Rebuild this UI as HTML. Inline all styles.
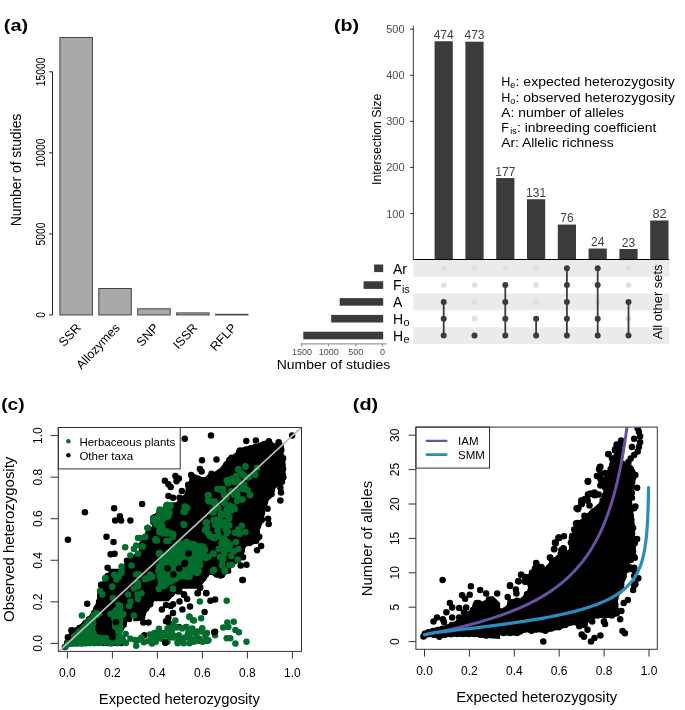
<!DOCTYPE html>
<html><head><meta charset="utf-8"><style>
html,body{margin:0;padding:0;background:#fff;}
svg{display:block;font-family:"Liberation Sans", sans-serif;will-change:transform;}
</style></head><body>
<svg width="685" height="710" viewBox="0 0 685 710">
<rect width="685" height="710" fill="#fff"/>
<text x="3.87" y="31.00" font-size="17" text-anchor="start" fill="#000" font-weight="bold" textLength="24.38" lengthAdjust="spacingAndGlyphs">(a)</text>
<text x="334.00" y="31.00" font-size="17" text-anchor="start" fill="#000" font-weight="bold" textLength="25.10" lengthAdjust="spacingAndGlyphs">(b)</text>
<text x="1.24" y="409.60" font-size="17" text-anchor="start" fill="#000" font-weight="bold" textLength="23.36" lengthAdjust="spacingAndGlyphs">(c)</text>
<text x="352.80" y="409.60" font-size="17" text-anchor="start" fill="#000" font-weight="bold" textLength="25.40" lengthAdjust="spacingAndGlyphs">(d)</text>
<line x1="52.50" y1="71.80" x2="52.50" y2="314.95" stroke="#222" stroke-width="1"/>
<line x1="49.00" y1="314.95" x2="52.50" y2="314.95" stroke="#222" stroke-width="1"/>
<text x="44.80" y="314.95" font-size="12" text-anchor="middle" fill="#000" transform="rotate(-90 44.80 314.95)" textLength="5.75" lengthAdjust="spacingAndGlyphs">0</text>
<line x1="49.00" y1="233.90" x2="52.50" y2="233.90" stroke="#222" stroke-width="1"/>
<text x="44.80" y="233.90" font-size="12" text-anchor="middle" fill="#000" transform="rotate(-90 44.80 233.90)" textLength="23.00" lengthAdjust="spacingAndGlyphs">5000</text>
<line x1="49.00" y1="152.85" x2="52.50" y2="152.85" stroke="#222" stroke-width="1"/>
<text x="44.80" y="152.85" font-size="12" text-anchor="middle" fill="#000" transform="rotate(-90 44.80 152.85)" textLength="28.75" lengthAdjust="spacingAndGlyphs">10000</text>
<line x1="49.00" y1="71.80" x2="52.50" y2="71.80" stroke="#222" stroke-width="1"/>
<text x="44.80" y="71.80" font-size="12" text-anchor="middle" fill="#000" transform="rotate(-90 44.80 71.80)" textLength="28.75" lengthAdjust="spacingAndGlyphs">15000</text>
<text x="20.50" y="170.00" font-size="14" text-anchor="middle" fill="#000" transform="rotate(-90 20.50 170.00)" textLength="112.60" lengthAdjust="spacingAndGlyphs">Number of studies</text>
<rect x="59.90" y="37.55" width="32.50" height="277.40" fill="#a9a9a9" stroke="#444" stroke-width="1"/>
<rect x="98.80" y="288.50" width="32.50" height="26.45" fill="#a9a9a9" stroke="#444" stroke-width="1"/>
<rect x="137.70" y="308.80" width="32.50" height="6.15" fill="#a9a9a9" stroke="#444" stroke-width="1"/>
<rect x="176.60" y="312.90" width="32.50" height="2.05" fill="#a9a9a9" stroke="#444" stroke-width="1"/>
<rect x="215.50" y="314.30" width="32.50" height="0.65" fill="#a9a9a9" stroke="#444" stroke-width="1"/>
<text x="78.65" y="325.60" font-size="12.5" text-anchor="end" fill="#000" transform="rotate(-47 78.65 325.60)" dominant-baseline="central">SSR</text>
<text x="117.55" y="325.60" font-size="12.5" text-anchor="end" fill="#000" transform="rotate(-47 117.55 325.60)" dominant-baseline="central">Allozymes</text>
<text x="156.45" y="325.60" font-size="12.5" text-anchor="end" fill="#000" transform="rotate(-47 156.45 325.60)" dominant-baseline="central">SNP</text>
<text x="195.35" y="325.60" font-size="12.5" text-anchor="end" fill="#000" transform="rotate(-47 195.35 325.60)" dominant-baseline="central">ISSR</text>
<text x="234.25" y="325.60" font-size="12.5" text-anchor="end" fill="#000" transform="rotate(-47 234.25 325.60)" dominant-baseline="central">RFLP</text>
<line x1="413.30" y1="25.80" x2="413.30" y2="259.60" stroke="#333" stroke-width="1"/>
<line x1="410.10" y1="213.53" x2="413.30" y2="213.53" stroke="#333" stroke-width="1"/>
<text x="404.60" y="217.53" font-size="11" text-anchor="end" fill="#4d4d4d">100</text>
<line x1="410.10" y1="167.46" x2="413.30" y2="167.46" stroke="#333" stroke-width="1"/>
<text x="404.60" y="171.46" font-size="11" text-anchor="end" fill="#4d4d4d">200</text>
<line x1="410.10" y1="121.39" x2="413.30" y2="121.39" stroke="#333" stroke-width="1"/>
<text x="404.60" y="125.39" font-size="11" text-anchor="end" fill="#4d4d4d">300</text>
<line x1="410.10" y1="75.32" x2="413.30" y2="75.32" stroke="#333" stroke-width="1"/>
<text x="404.60" y="79.32" font-size="11" text-anchor="end" fill="#4d4d4d">400</text>
<line x1="410.10" y1="29.25" x2="413.30" y2="29.25" stroke="#333" stroke-width="1"/>
<text x="404.60" y="33.25" font-size="11" text-anchor="end" fill="#4d4d4d">500</text>
<text x="380.70" y="139.30" font-size="13" text-anchor="middle" fill="#000" transform="rotate(-90 380.70 139.30)" textLength="91.50" lengthAdjust="spacingAndGlyphs">Intersection Size</text>
<rect x="413.30" y="259.90" width="255.90" height="16.80" fill="#ebebeb"/>
<rect x="413.30" y="293.50" width="255.90" height="16.80" fill="#ebebeb"/>
<rect x="413.30" y="327.10" width="255.90" height="16.80" fill="#ebebeb"/>
<rect x="434.60" y="41.23" width="18.20" height="218.37" fill="#3b3b3b"/>
<text x="443.70" y="38.93" font-size="12" text-anchor="middle" fill="#404040">474</text>
<rect x="465.40" y="41.69" width="18.20" height="217.91" fill="#3b3b3b"/>
<text x="474.50" y="39.39" font-size="12" text-anchor="middle" fill="#404040">473</text>
<rect x="496.20" y="178.06" width="18.20" height="81.54" fill="#3b3b3b"/>
<text x="505.30" y="175.76" font-size="12" text-anchor="middle" fill="#404040">177</text>
<rect x="527.00" y="199.25" width="18.20" height="60.35" fill="#3b3b3b"/>
<text x="536.10" y="196.95" font-size="12" text-anchor="middle" fill="#404040">131</text>
<rect x="557.80" y="224.59" width="18.20" height="35.01" fill="#3b3b3b"/>
<text x="566.90" y="222.29" font-size="12" text-anchor="middle" fill="#404040">76</text>
<rect x="588.60" y="248.54" width="18.20" height="11.06" fill="#3b3b3b"/>
<text x="597.70" y="246.24" font-size="12" text-anchor="middle" fill="#404040">24</text>
<rect x="619.40" y="249.00" width="18.20" height="10.60" fill="#3b3b3b"/>
<text x="628.50" y="246.70" font-size="12" text-anchor="middle" fill="#404040">23</text>
<rect x="650.20" y="220.50" width="18.30" height="39.10" fill="#3b3b3b"/>
<text x="659.60" y="217.60" font-size="12.8" text-anchor="middle" fill="#404040">82</text>
<line x1="413.30" y1="259.50" x2="669.20" y2="259.50" stroke="#000" stroke-width="1"/>
<circle cx="443.70" cy="268.30" r="2.9" fill="#e0e0e0"/>
<circle cx="443.70" cy="285.10" r="2.9" fill="#e0e0e0"/>
<line x1="443.70" y1="301.90" x2="443.70" y2="335.50" stroke="#3b3b3b" stroke-width="1.8"/>
<circle cx="443.70" cy="301.90" r="3.0" fill="#3b3b3b"/>
<circle cx="443.70" cy="318.70" r="3.0" fill="#3b3b3b"/>
<circle cx="443.70" cy="335.50" r="3.0" fill="#3b3b3b"/>
<circle cx="474.50" cy="268.30" r="2.9" fill="#e0e0e0"/>
<circle cx="474.50" cy="285.10" r="2.9" fill="#e0e0e0"/>
<circle cx="474.50" cy="301.90" r="2.9" fill="#e0e0e0"/>
<circle cx="474.50" cy="318.70" r="2.9" fill="#e0e0e0"/>
<circle cx="474.50" cy="335.50" r="3.0" fill="#3b3b3b"/>
<circle cx="505.30" cy="268.30" r="2.9" fill="#e0e0e0"/>
<line x1="505.30" y1="285.10" x2="505.30" y2="335.50" stroke="#3b3b3b" stroke-width="1.8"/>
<circle cx="505.30" cy="285.10" r="3.0" fill="#3b3b3b"/>
<circle cx="505.30" cy="301.90" r="3.0" fill="#3b3b3b"/>
<circle cx="505.30" cy="318.70" r="3.0" fill="#3b3b3b"/>
<circle cx="505.30" cy="335.50" r="3.0" fill="#3b3b3b"/>
<circle cx="536.10" cy="268.30" r="2.9" fill="#e0e0e0"/>
<circle cx="536.10" cy="285.10" r="2.9" fill="#e0e0e0"/>
<circle cx="536.10" cy="301.90" r="2.9" fill="#e0e0e0"/>
<line x1="536.10" y1="318.70" x2="536.10" y2="335.50" stroke="#3b3b3b" stroke-width="1.8"/>
<circle cx="536.10" cy="318.70" r="3.0" fill="#3b3b3b"/>
<circle cx="536.10" cy="335.50" r="3.0" fill="#3b3b3b"/>
<line x1="566.90" y1="268.30" x2="566.90" y2="335.50" stroke="#3b3b3b" stroke-width="1.8"/>
<circle cx="566.90" cy="268.30" r="3.0" fill="#3b3b3b"/>
<circle cx="566.90" cy="285.10" r="3.0" fill="#3b3b3b"/>
<circle cx="566.90" cy="301.90" r="3.0" fill="#3b3b3b"/>
<circle cx="566.90" cy="318.70" r="3.0" fill="#3b3b3b"/>
<circle cx="566.90" cy="335.50" r="3.0" fill="#3b3b3b"/>
<circle cx="597.70" cy="301.90" r="2.9" fill="#e0e0e0"/>
<line x1="597.70" y1="268.30" x2="597.70" y2="335.50" stroke="#3b3b3b" stroke-width="1.8"/>
<circle cx="597.70" cy="268.30" r="3.0" fill="#3b3b3b"/>
<circle cx="597.70" cy="285.10" r="3.0" fill="#3b3b3b"/>
<circle cx="597.70" cy="318.70" r="3.0" fill="#3b3b3b"/>
<circle cx="597.70" cy="335.50" r="3.0" fill="#3b3b3b"/>
<circle cx="628.50" cy="268.30" r="2.9" fill="#e0e0e0"/>
<circle cx="628.50" cy="285.10" r="2.9" fill="#e0e0e0"/>
<circle cx="628.50" cy="318.70" r="2.9" fill="#e0e0e0"/>
<line x1="628.50" y1="301.90" x2="628.50" y2="335.50" stroke="#3b3b3b" stroke-width="1.8"/>
<circle cx="628.50" cy="301.90" r="3.0" fill="#3b3b3b"/>
<circle cx="628.50" cy="335.50" r="3.0" fill="#3b3b3b"/>
<text x="662.10" y="301.85" font-size="12" text-anchor="middle" fill="#000" transform="rotate(-90 662.10 301.85)" textLength="74.70" lengthAdjust="spacingAndGlyphs">All other sets</text>
<rect x="374.10" y="264.50" width="9.10" height="7.60" fill="#3b3b3b"/>
<rect x="363.60" y="281.30" width="19.60" height="7.60" fill="#3b3b3b"/>
<rect x="339.70" y="298.10" width="43.50" height="7.60" fill="#3b3b3b"/>
<rect x="331.20" y="314.90" width="52.00" height="7.60" fill="#3b3b3b"/>
<rect x="303.30" y="331.70" width="79.90" height="7.60" fill="#3b3b3b"/>
<line x1="300.30" y1="343.90" x2="386.50" y2="343.90" stroke="#999" stroke-width="1.2"/>
<line x1="301.90" y1="343.90" x2="301.90" y2="346.60" stroke="#999" stroke-width="1.2"/>
<text x="301.90" y="355.30" font-size="9" text-anchor="middle" fill="#4d4d4d">1500</text>
<line x1="328.70" y1="343.90" x2="328.70" y2="346.60" stroke="#999" stroke-width="1.2"/>
<text x="328.70" y="355.30" font-size="9" text-anchor="middle" fill="#4d4d4d">1000</text>
<line x1="355.70" y1="343.90" x2="355.70" y2="346.60" stroke="#999" stroke-width="1.2"/>
<text x="355.70" y="355.30" font-size="9" text-anchor="middle" fill="#4d4d4d">500</text>
<line x1="382.50" y1="343.90" x2="382.50" y2="346.60" stroke="#999" stroke-width="1.2"/>
<text x="382.50" y="355.30" font-size="9" text-anchor="middle" fill="#4d4d4d">0</text>
<text x="276.70" y="369.20" font-size="12.4" text-anchor="start" fill="#000" textLength="113.60" lengthAdjust="spacingAndGlyphs">Number of studies</text>
<text x="393" y="273.50" font-size="14">Ar</text>
<text x="393" y="290.30" font-size="14">F<tspan font-size="10.8" dx="0.4" dy="2.4">is</tspan></text>
<text x="393" y="307.10" font-size="14">A</text>
<text x="393" y="323.90" font-size="14">H<tspan font-size="10.8" dx="0.4" dy="2.4">o</tspan></text>
<text x="393" y="340.70" font-size="14">H<tspan font-size="10.8" dx="0.4" dy="2.4">e</tspan></text>
<text x="501.20" y="86.40" font-size="12.5" text-anchor="start" fill="#000">H</text>
<text x="510.20" y="88.40" font-size="9" text-anchor="start" fill="#000">e</text>
<text x="515.50" y="86.40" font-size="12.5" text-anchor="start" fill="#000" textLength="159.40" lengthAdjust="spacingAndGlyphs">: expected heterozygosity</text>
<text x="501.20" y="101.65" font-size="12.5" text-anchor="start" fill="#000">H</text>
<text x="510.20" y="103.65" font-size="9" text-anchor="start" fill="#000">o</text>
<text x="515.50" y="101.65" font-size="12.5" text-anchor="start" fill="#000" textLength="159.40" lengthAdjust="spacingAndGlyphs">: observed heterozygosity</text>
<text x="501.20" y="116.90" font-size="12.5" text-anchor="start" fill="#000" textLength="122.80" lengthAdjust="spacingAndGlyphs">A: number of alleles</text>
<text x="501.20" y="132.15" font-size="12.5" text-anchor="start" fill="#000">F</text>
<text x="510.20" y="134.15" font-size="9" text-anchor="start" fill="#000">is</text>
<text x="517.00" y="132.15" font-size="12.5" text-anchor="start" fill="#000" textLength="139.30" lengthAdjust="spacingAndGlyphs">: inbreeding coefficient</text>
<text x="501.20" y="147.40" font-size="12.5" text-anchor="start" fill="#000" textLength="112.40" lengthAdjust="spacingAndGlyphs">Ar: Allelic richness</text>
<clipPath id="clipc2"><rect x="58.8" y="428" width="242.2" height="222.9"/></clipPath><g clip-path="url(#clipc2)"><polygon fill="#000" points="178.9,508.8 177.7,501.7 182.4,497.1 185.9,492.4 186.5,486.6 189.4,481.9 191.7,477.2 196.4,476.1 201.1,477.2 205.7,478.4 209.2,476.1 210.4,473.7 215.1,472.5 222.1,471.4 222.1,508.8"/>
<polygon fill="#000" points="217.3,470.9 224.3,462.9 227.8,458.1 231.3,455.3 233.7,455.0 237.2,450.4 239.5,448.0 245.4,446.9 250.0,445.7 254.7,444.5 259.4,443.4 262.3,442.2 264.0,441.6 267.5,440.4 271.1,439.8 273.4,443.4 275.7,444.5 278.1,441.6 281.0,441.0 283.3,445.7 283.9,450.4 283.3,455.0 285.6,458.5 285.1,464.4 285.6,469.0 285.1,473.7 285.6,478.4 282.7,484.2 276.9,486.0 274.6,490.1 273.4,495.9 268.7,500.6 266.4,508.8 217.3,508.8"/>
<polygon fill="#000" points="107.1,588.8 110.6,582.9 116.4,579.4 121.1,572.4 123.4,565.4 126.9,559.6 131.6,556.1 138.0,551.4 142.1,551.4 142.1,588.8"/>
<polygon fill="#000" points="133.3,559.6 138.0,553.7 145.0,542.0 147.3,538.5 152.0,532.7 153.2,528.0 150.8,521.0 153.2,515.2 159.0,510.5 166.0,508.2 173.0,502.3 222.1,502.3 222.1,557.2 218.0,557.2 215.1,560.7 212.7,565.4 210.4,572.4 208.1,575.9 205.7,579.4 203.4,582.9 198.7,588.8 133.3,588.8"/>
<polygon fill="#000" points="217.3,502.3 265.2,502.3 264.6,512.8 264.0,521.0 260.5,526.9 259.4,531.5 261.1,538.5 257.0,543.2 250.0,545.5 245.4,546.7 244.2,551.4 243.0,556.1 239.5,561.9 233.7,565.4 229.0,570.1 224.3,574.7 222.0,575.9 217.3,575.9"/>
<polygon fill="#000" points="62.7,645.7 67.3,637.6 72.0,629.4 77.9,625.9 83.7,621.2 87.2,617.7 91.9,611.9 94.2,607.2 96.5,601.4 97.7,594.4 100.0,586.2 102.4,582.7 107.1,575.7 109.4,568.7 142.1,568.7 142.1,615.4 133.9,616.5 128.1,620.1 125.7,625.9 123.4,629.4 121.1,634.1 121.1,645.7"/>
<polygon fill="#000" points="133.3,568.7 208.1,568.7 206.9,576.8 203.4,581.5 196.4,585.0 187.1,586.2 178.9,588.5 173.0,592.0 167.2,594.4 161.4,596.7 156.7,597.9 153.2,601.4 152.0,606.0 148.5,609.5 145.0,615.4 142.7,620.1 138.0,621.2 133.3,621.2"/>
<polygon fill="#000" points="138.7,543.6 146.6,531.8 151.8,527.8 153.1,522.6 151.8,516.0 157.1,512.0 161.0,508.1 166.3,505.5 174.2,506.8 179.4,501.5 183.4,496.3 186.0,491.0 188.6,484.5 192.6,481.8 197.8,479.2 203.1,477.9 208.3,475.3 213.6,472.6 218.8,468.7 234.6,468.7 234.6,564.6 138.7,564.6"/>
<polygon fill="#000" points="196.7,528.8 231.2,528.8 231.2,573.2 224.7,574.4 220.1,577.9 215.4,576.7 210.7,574.4 207.2,574.4 204.9,576.7 201.4,581.4 196.7,582.6 194.4,565.0"/>
<polygon fill="#000" points="148.8,579.1 179.2,582.6 185.0,584.9 179.2,590.7 173.4,595.4 168.7,601.2 148.8,601.2"/>
<g fill="#000"><circle cx="179.5" cy="503.6" r="3.25"/><circle cx="184.5" cy="498.6" r="3.25"/><circle cx="188.5" cy="492.7" r="3.25"/><circle cx="188.7" cy="487.9" r="3.25"/><circle cx="191.7" cy="483.1" r="3.25"/><circle cx="192.4" cy="479.7" r="3.25"/><circle cx="195.8" cy="478.6" r="3.25"/><circle cx="200.4" cy="479.7" r="3.25"/><circle cx="207.2" cy="480.6" r="3.25"/><circle cx="211.6" cy="477.2" r="3.25"/><circle cx="211.0" cy="476.2" r="3.25"/><circle cx="184.7" cy="438.7" r="3.25"/><circle cx="211.0" cy="435.4" r="3.25"/><circle cx="202.0" cy="460.3" r="3.25"/><circle cx="216.5" cy="459.5" r="3.25"/><circle cx="199.9" cy="469.0" r="3.25"/><circle cx="201.6" cy="471.4" r="3.25"/><circle cx="175.4" cy="476.1" r="3.25"/><circle cx="178.9" cy="478.4" r="3.25"/><circle cx="176.5" cy="481.3" r="3.25"/><circle cx="164.9" cy="480.7" r="3.25"/><circle cx="168.4" cy="484.2" r="3.25"/><circle cx="170.7" cy="487.1" r="3.25"/><circle cx="191.1" cy="474.9" r="3.25"/><circle cx="194.1" cy="477.2" r="3.25"/><circle cx="197.6" cy="478.4" r="3.25"/><circle cx="211.6" cy="473.7" r="3.25"/><circle cx="212.7" cy="477.2" r="3.25"/><circle cx="181.8" cy="491.0" r="3.25"/><circle cx="168.4" cy="495.9" r="3.25"/><circle cx="173.0" cy="497.7" r="3.25"/><circle cx="179.5" cy="497.7" r="3.25"/><circle cx="142.1" cy="504.1" r="3.25"/><circle cx="188.2" cy="484.8" r="3.25"/><circle cx="226.4" cy="464.4" r="3.25"/><circle cx="229.5" cy="460.1" r="3.25"/><circle cx="231.6" cy="457.8" r="3.25"/><circle cx="235.8" cy="456.6" r="3.25"/><circle cx="239.0" cy="452.2" r="3.25"/><circle cx="240.0" cy="450.6" r="3.25"/><circle cx="246.0" cy="449.4" r="3.25"/><circle cx="250.7" cy="448.2" r="3.25"/><circle cx="255.3" cy="447.0" r="3.25"/><circle cx="260.3" cy="445.8" r="3.25"/><circle cx="263.1" cy="444.6" r="3.25"/><circle cx="264.9" cy="444.1" r="3.25"/><circle cx="268.0" cy="443.0" r="3.25"/><circle cx="268.9" cy="441.3" r="3.25"/><circle cx="272.2" cy="445.7" r="3.25"/><circle cx="277.8" cy="446.1" r="3.25"/><circle cx="278.6" cy="444.1" r="3.25"/><circle cx="278.7" cy="442.2" r="3.25"/><circle cx="280.7" cy="446.0" r="3.25"/><circle cx="281.3" cy="450.0" r="3.25"/><circle cx="281.2" cy="456.5" r="3.25"/><circle cx="283.1" cy="458.3" r="3.25"/><circle cx="282.5" cy="464.7" r="3.25"/><circle cx="283.1" cy="468.7" r="3.25"/><circle cx="282.5" cy="474.0" r="3.25"/><circle cx="283.3" cy="477.2" r="3.25"/><circle cx="282.0" cy="481.7" r="3.25"/><circle cx="274.6" cy="484.7" r="3.25"/><circle cx="272.0" cy="489.6" r="3.25"/><circle cx="271.5" cy="494.1" r="3.25"/><circle cx="246.3" cy="441.0" r="3.25"/><circle cx="255.9" cy="440.4" r="3.25"/><circle cx="292.1" cy="435.4" r="3.25"/><circle cx="280.4" cy="487.7" r="3.25"/><circle cx="281.0" cy="492.4" r="3.25"/><circle cx="280.4" cy="500.6" r="3.25"/><circle cx="111.9" cy="585.1" r="3.25"/><circle cx="118.6" cy="580.9" r="3.25"/><circle cx="120.9" cy="577.3" r="3.25"/><circle cx="123.5" cy="573.2" r="3.25"/><circle cx="125.6" cy="566.7" r="3.25"/><circle cx="128.5" cy="561.6" r="3.25"/><circle cx="133.1" cy="558.2" r="3.25"/><circle cx="84.9" cy="512.3" r="3.25"/><circle cx="114.1" cy="508.2" r="3.25"/><circle cx="119.9" cy="516.3" r="3.25"/><circle cx="115.2" cy="520.4" r="3.25"/><circle cx="121.1" cy="520.4" r="3.25"/><circle cx="130.4" cy="520.4" r="3.25"/><circle cx="67.9" cy="539.7" r="3.25"/><circle cx="106.5" cy="536.8" r="3.25"/><circle cx="113.5" cy="542.0" r="3.25"/><circle cx="110.6" cy="554.3" r="3.25"/><circle cx="114.6" cy="553.7" r="3.25"/><circle cx="107.6" cy="567.7" r="3.25"/><circle cx="107.6" cy="575.9" r="3.25"/><circle cx="101.2" cy="584.7" r="3.25"/><circle cx="126.9" cy="560.7" r="3.25"/><circle cx="140.2" cy="555.1" r="3.25"/><circle cx="142.6" cy="551.2" r="3.25"/><circle cx="144.9" cy="547.3" r="3.25"/><circle cx="147.2" cy="543.5" r="3.25"/><circle cx="149.4" cy="540.2" r="3.25"/><circle cx="154.5" cy="533.3" r="3.25"/><circle cx="155.6" cy="527.2" r="3.25"/><circle cx="153.3" cy="522.0" r="3.25"/><circle cx="154.8" cy="517.2" r="3.25"/><circle cx="159.8" cy="513.0" r="3.25"/><circle cx="216.0" cy="555.6" r="3.25"/><circle cx="212.8" cy="559.6" r="3.25"/><circle cx="210.3" cy="564.6" r="3.25"/><circle cx="208.2" cy="571.0" r="3.25"/><circle cx="205.9" cy="574.5" r="3.25"/><circle cx="203.6" cy="578.0" r="3.25"/><circle cx="262.0" cy="512.7" r="3.25"/><circle cx="261.8" cy="519.7" r="3.25"/><circle cx="258.0" cy="526.2" r="3.25"/><circle cx="256.8" cy="532.2" r="3.25"/><circle cx="259.2" cy="536.8" r="3.25"/><circle cx="256.2" cy="540.7" r="3.25"/><circle cx="249.4" cy="543.0" r="3.25"/><circle cx="242.8" cy="546.1" r="3.25"/><circle cx="241.7" cy="550.7" r="3.25"/><circle cx="240.8" cy="554.7" r="3.25"/><circle cx="238.2" cy="559.7" r="3.25"/><circle cx="231.8" cy="563.6" r="3.25"/><circle cx="227.2" cy="568.2" r="3.25"/><circle cx="223.2" cy="572.4" r="3.25"/><circle cx="267.5" cy="508.8" r="3.25"/><circle cx="268.1" cy="518.7" r="3.25"/><circle cx="268.7" cy="523.9" r="3.25"/><circle cx="261.1" cy="546.1" r="3.25"/><circle cx="257.0" cy="550.2" r="3.25"/><circle cx="243.0" cy="557.2" r="3.25"/><circle cx="240.7" cy="565.4" r="3.25"/><circle cx="246.5" cy="564.8" r="3.25"/><circle cx="242.4" cy="580.0" r="3.25"/><circle cx="222.0" cy="574.7" r="3.25"/><circle cx="64.9" cy="647.0" r="3.25"/><circle cx="67.3" cy="642.9" r="3.25"/><circle cx="69.6" cy="638.9" r="3.25"/><circle cx="71.9" cy="634.8" r="3.25"/><circle cx="73.4" cy="631.6" r="3.25"/><circle cx="79.5" cy="627.9" r="3.25"/><circle cx="85.5" cy="623.1" r="3.25"/><circle cx="89.2" cy="619.3" r="3.25"/><circle cx="94.2" cy="613.0" r="3.25"/><circle cx="96.6" cy="608.2" r="3.25"/><circle cx="99.1" cy="601.8" r="3.25"/><circle cx="100.2" cy="595.1" r="3.25"/><circle cx="101.4" cy="591.0" r="3.25"/><circle cx="102.2" cy="587.6" r="3.25"/><circle cx="104.5" cy="584.1" r="3.25"/><circle cx="106.9" cy="580.6" r="3.25"/><circle cx="132.6" cy="614.3" r="3.25"/><circle cx="125.7" cy="619.1" r="3.25"/><circle cx="123.6" cy="624.4" r="3.25"/><circle cx="121.1" cy="628.2" r="3.25"/><circle cx="118.5" cy="634.1" r="3.25"/><circle cx="118.5" cy="639.9" r="3.25"/><circle cx="121.1" cy="643.1" r="3.25"/><circle cx="116.6" cy="643.1" r="3.25"/><circle cx="112.1" cy="643.1" r="3.25"/><circle cx="107.6" cy="643.1" r="3.25"/><circle cx="103.1" cy="643.1" r="3.25"/><circle cx="98.6" cy="643.1" r="3.25"/><circle cx="94.1" cy="643.1" r="3.25"/><circle cx="89.6" cy="643.1" r="3.25"/><circle cx="85.1" cy="643.1" r="3.25"/><circle cx="80.6" cy="643.1" r="3.25"/><circle cx="76.1" cy="643.1" r="3.25"/><circle cx="71.7" cy="643.1" r="3.25"/><circle cx="67.2" cy="643.1" r="3.25"/><circle cx="87.2" cy="603.7" r="3.25"/><circle cx="101.2" cy="585.0" r="3.25"/><circle cx="72.6" cy="630.6" r="3.25"/><circle cx="129.2" cy="618.9" r="3.25"/><circle cx="123.4" cy="624.7" r="3.25"/><circle cx="122.2" cy="639.3" r="3.25"/><circle cx="204.8" cy="575.3" r="3.25"/><circle cx="202.2" cy="579.2" r="3.25"/><circle cx="196.1" cy="582.4" r="3.25"/><circle cx="191.4" cy="583.0" r="3.25"/><circle cx="186.3" cy="583.7" r="3.25"/><circle cx="182.2" cy="584.9" r="3.25"/><circle cx="177.5" cy="586.3" r="3.25"/><circle cx="172.1" cy="589.6" r="3.25"/><circle cx="166.2" cy="591.9" r="3.25"/><circle cx="160.7" cy="594.2" r="3.25"/><circle cx="154.8" cy="596.0" r="3.25"/><circle cx="150.7" cy="600.7" r="3.25"/><circle cx="150.2" cy="604.2" r="3.25"/><circle cx="146.3" cy="608.2" r="3.25"/><circle cx="142.7" cy="614.2" r="3.25"/><circle cx="142.0" cy="617.5" r="3.25"/><circle cx="178.3" cy="591.4" r="3.25"/><circle cx="184.1" cy="594.9" r="3.25"/><circle cx="187.1" cy="599.0" r="3.25"/><circle cx="179.5" cy="601.4" r="3.25"/><circle cx="173.0" cy="604.3" r="3.25"/><circle cx="166.0" cy="604.9" r="3.25"/><circle cx="161.9" cy="609.5" r="3.25"/><circle cx="170.7" cy="606.0" r="3.25"/><circle cx="182.4" cy="609.5" r="3.25"/><circle cx="190.0" cy="606.6" r="3.25"/><circle cx="173.0" cy="613.0" r="3.25"/><circle cx="168.4" cy="617.7" r="3.25"/><circle cx="166.0" cy="621.2" r="3.25"/><circle cx="169.5" cy="623.6" r="3.25"/><circle cx="178.9" cy="627.1" r="3.25"/><circle cx="199.9" cy="587.9" r="3.25"/><circle cx="197.6" cy="593.2" r="3.25"/><circle cx="206.3" cy="593.2" r="3.25"/><circle cx="210.4" cy="600.8" r="3.25"/><circle cx="215.1" cy="599.6" r="3.25"/><circle cx="204.6" cy="611.9" r="3.25"/><circle cx="215.1" cy="631.7" r="3.25"/><circle cx="143.3" cy="622.4" r="3.25"/><circle cx="148.5" cy="622.4" r="3.25"/><circle cx="144.4" cy="635.2" r="3.25"/><circle cx="165.4" cy="642.8" r="3.25"/><circle cx="162.5" cy="595.5" r="3.25"/><circle cx="168.4" cy="595.5" r="3.25"/><circle cx="242.8" cy="580.1" r="3.25"/><circle cx="222.0" cy="574.5" r="3.25"/><circle cx="148.1" cy="533.8" r="3.25"/><circle cx="154.3" cy="528.4" r="3.25"/><circle cx="155.7" cy="522.0" r="3.25"/><circle cx="153.4" cy="518.1" r="3.25"/><circle cx="158.9" cy="513.9" r="3.25"/><circle cx="162.2" cy="510.4" r="3.25"/><circle cx="165.9" cy="508.0" r="3.25"/><circle cx="176.0" cy="508.6" r="3.25"/><circle cx="181.5" cy="503.1" r="3.25"/><circle cx="185.7" cy="497.4" r="3.25"/><circle cx="188.4" cy="492.0" r="3.25"/><circle cx="190.1" cy="486.6" r="3.25"/><circle cx="193.7" cy="484.2" r="3.25"/><circle cx="198.4" cy="481.7" r="3.25"/><circle cx="204.2" cy="480.2" r="3.25"/><circle cx="209.5" cy="477.6" r="3.25"/><circle cx="223.2" cy="572.3" r="3.25"/><circle cx="220.7" cy="575.4" r="3.25"/><circle cx="216.6" cy="574.4" r="3.25"/><circle cx="210.7" cy="571.8" r="3.25"/><circle cx="205.4" cy="572.5" r="3.25"/><circle cx="202.8" cy="575.2" r="3.25"/><circle cx="200.8" cy="578.9" r="3.25"/><circle cx="199.3" cy="582.2" r="3.25"/><circle cx="198.7" cy="577.8" r="3.25"/><circle cx="198.1" cy="573.5" r="3.25"/><circle cx="197.5" cy="569.1" r="3.25"/><circle cx="178.2" cy="585.0" r="3.25"/><circle cx="183.2" cy="583.1" r="3.25"/><circle cx="177.6" cy="588.7" r="3.25"/><circle cx="171.3" cy="593.8" r="3.25"/></g>
<polygon fill="#006d2c" points="151.4,518.7 156.7,514.0 159.0,509.3 166.0,508.2 171.9,514.0 169.5,518.7 163.7,522.2 164.9,526.9 167.2,533.9 161.4,535.0 157.9,530.4 153.2,524.5"/>
<polygon fill="#006d2c" points="63.5,645.0 68.8,637.2 77.5,629.3 82.8,624.9 88.0,617.9 93.3,612.6 98.5,611.8 101.2,616.1 97.7,620.5 95.9,624.9 95.0,631.0 98.5,634.5 105.5,635.4 112.5,636.3 117.8,639.8 116.0,644.2 109.0,645.0 86.3,645.9 68.8,646.4"/>
<polygon fill="#006d2c" points="109.0,611.8 114.3,608.3 120.0,603.0 123.0,603.0 123.0,632.8 116.0,632.8 112.5,626.6 111.7,618.8"/>
<polygon fill="#006d2c" points="157.0,565.0 161.7,558.0 167.5,551.0 173.4,546.4 180.4,541.7 187.4,539.3 194.4,541.7 201.4,544.0 206.1,546.4 207.2,551.0 203.7,555.7 199.1,556.9 201.4,562.7 201.4,566.2 197.9,569.7 200.2,573.2 196.7,575.5 192.0,574.4 189.7,579.1 185.0,579.1 180.4,579.1 176.9,581.4 172.2,583.7 167.5,586.1 162.8,588.4 158.2,584.9 157.0,576.7 155.8,569.7"/>
<g fill="#006d2c"><circle cx="208.7" cy="495.3" r="3.25"/><circle cx="208.1" cy="500.6" r="3.25"/><circle cx="213.9" cy="501.7" r="3.25"/><circle cx="217.4" cy="488.9" r="3.25"/><circle cx="167.2" cy="504.7" r="3.25"/><circle cx="170.7" cy="505.2" r="3.25"/><circle cx="184.7" cy="506.4" r="3.25"/><circle cx="245.4" cy="466.7" r="3.25"/><circle cx="238.4" cy="469.0" r="3.25"/><circle cx="240.7" cy="472.5" r="3.25"/><circle cx="257.0" cy="467.9" r="3.25"/><circle cx="255.3" cy="474.9" r="3.25"/><circle cx="248.9" cy="477.2" r="3.25"/><circle cx="244.2" cy="476.1" r="3.25"/><circle cx="236.0" cy="476.1" r="3.25"/><circle cx="231.3" cy="479.6" r="3.25"/><circle cx="227.8" cy="481.9" r="3.25"/><circle cx="234.8" cy="481.9" r="3.25"/><circle cx="243.0" cy="484.2" r="3.25"/><circle cx="245.4" cy="488.9" r="3.25"/><circle cx="250.0" cy="495.3" r="3.25"/><circle cx="237.2" cy="490.1" r="3.25"/><circle cx="231.3" cy="491.2" r="3.25"/><circle cx="233.7" cy="494.7" r="3.25"/><circle cx="224.3" cy="494.7" r="3.25"/><circle cx="223.2" cy="488.9" r="3.25"/><circle cx="237.2" cy="500.6" r="3.25"/><circle cx="242.4" cy="499.4" r="3.25"/><circle cx="224.3" cy="502.9" r="3.25"/><circle cx="233.7" cy="507.0" r="3.25"/><circle cx="125.2" cy="547.3" r="3.25"/><circle cx="138.0" cy="537.9" r="3.25"/><circle cx="136.2" cy="545.5" r="3.25"/><circle cx="133.9" cy="549.0" r="3.25"/><circle cx="130.4" cy="555.5" r="3.25"/><circle cx="131.6" cy="565.4" r="3.25"/><circle cx="121.6" cy="566.6" r="3.25"/><circle cx="121.6" cy="571.2" r="3.25"/><circle cx="114.1" cy="574.7" r="3.25"/><circle cx="118.7" cy="577.1" r="3.25"/><circle cx="116.4" cy="579.4" r="3.25"/><circle cx="105.3" cy="578.5" r="3.25"/><circle cx="138.0" cy="574.2" r="3.25"/><circle cx="112.3" cy="586.4" r="3.25"/><circle cx="137.4" cy="584.7" r="3.25"/><circle cx="183.5" cy="511.7" r="3.25"/><circle cx="187.1" cy="508.2" r="3.25"/><circle cx="184.1" cy="525.1" r="3.25"/><circle cx="206.9" cy="522.2" r="3.25"/><circle cx="205.7" cy="529.2" r="3.25"/><circle cx="209.2" cy="533.9" r="3.25"/><circle cx="212.7" cy="537.4" r="3.25"/><circle cx="215.1" cy="524.5" r="3.25"/><circle cx="216.2" cy="519.8" r="3.25"/><circle cx="212.7" cy="510.5" r="3.25"/><circle cx="215.1" cy="507.0" r="3.25"/><circle cx="147.3" cy="528.0" r="3.25"/><circle cx="145.0" cy="536.8" r="3.25"/><circle cx="139.8" cy="537.9" r="3.25"/><circle cx="142.7" cy="546.7" r="3.25"/><circle cx="138.0" cy="553.7" r="3.25"/><circle cx="155.5" cy="540.3" r="3.25"/><circle cx="159.0" cy="553.7" r="3.25"/><circle cx="173.0" cy="533.9" r="3.25"/><circle cx="168.4" cy="540.9" r="3.25"/><circle cx="146.2" cy="578.2" r="3.25"/><circle cx="150.8" cy="577.1" r="3.25"/><circle cx="139.2" cy="574.7" r="3.25"/><circle cx="138.0" cy="582.9" r="3.25"/><circle cx="188.2" cy="576.5" r="3.25"/><circle cx="196.4" cy="571.2" r="3.25"/><circle cx="213.9" cy="570.1" r="3.25"/><circle cx="153.2" cy="520.6" r="3.25"/><circle cx="159.0" cy="515.2" r="3.25"/><circle cx="159.4" cy="511.9" r="3.25"/><circle cx="164.2" cy="510.0" r="3.25"/><circle cx="169.5" cy="512.8" r="3.25"/><circle cx="168.2" cy="516.4" r="3.25"/><circle cx="161.2" cy="522.8" r="3.25"/><circle cx="162.4" cy="527.7" r="3.25"/><circle cx="166.7" cy="531.3" r="3.25"/><circle cx="163.4" cy="533.5" r="3.25"/><circle cx="159.9" cy="528.7" r="3.25"/><circle cx="155.7" cy="523.8" r="3.25"/><circle cx="231.3" cy="510.5" r="3.25"/><circle cx="227.8" cy="514.0" r="3.25"/><circle cx="229.0" cy="518.7" r="3.25"/><circle cx="224.3" cy="522.2" r="3.25"/><circle cx="226.7" cy="526.9" r="3.25"/><circle cx="227.8" cy="531.5" r="3.25"/><circle cx="222.0" cy="515.2" r="3.25"/><circle cx="241.9" cy="525.7" r="3.25"/><circle cx="238.4" cy="529.2" r="3.25"/><circle cx="234.8" cy="532.7" r="3.25"/><circle cx="239.5" cy="533.9" r="3.25"/><circle cx="245.4" cy="532.1" r="3.25"/><circle cx="236.0" cy="542.0" r="3.25"/><circle cx="230.2" cy="544.4" r="3.25"/><circle cx="225.5" cy="542.0" r="3.25"/><circle cx="238.4" cy="549.0" r="3.25"/><circle cx="233.7" cy="551.4" r="3.25"/><circle cx="229.0" cy="549.0" r="3.25"/><circle cx="224.3" cy="553.7" r="3.25"/><circle cx="231.3" cy="556.1" r="3.25"/><circle cx="223.2" cy="559.6" r="3.25"/><circle cx="237.8" cy="559.6" r="3.25"/><circle cx="231.9" cy="564.8" r="3.25"/><circle cx="224.9" cy="570.6" r="3.25"/><circle cx="222.0" cy="565.4" r="3.25"/><circle cx="105.3" cy="578.0" r="3.25"/><circle cx="115.8" cy="575.7" r="3.25"/><circle cx="121.1" cy="573.3" r="3.25"/><circle cx="136.2" cy="574.5" r="3.25"/><circle cx="112.3" cy="586.8" r="3.25"/><circle cx="100.0" cy="590.9" r="3.25"/><circle cx="102.4" cy="594.4" r="3.25"/><circle cx="112.9" cy="597.9" r="3.25"/><circle cx="118.7" cy="604.9" r="3.25"/><circle cx="128.1" cy="594.4" r="3.25"/><circle cx="130.4" cy="601.4" r="3.25"/><circle cx="133.9" cy="588.5" r="3.25"/><circle cx="137.4" cy="594.4" r="3.25"/><circle cx="129.2" cy="606.0" r="3.25"/><circle cx="81.9" cy="615.4" r="3.25"/><circle cx="123.4" cy="614.2" r="3.25"/><circle cx="133.9" cy="615.4" r="3.25"/><circle cx="125.7" cy="634.1" r="3.25"/><circle cx="130.4" cy="638.7" r="3.25"/><circle cx="135.1" cy="639.9" r="3.25"/><circle cx="123.4" cy="641.1" r="3.25"/><circle cx="136.2" cy="645.7" r="3.25"/><circle cx="163.7" cy="575.7" r="3.25"/><circle cx="170.7" cy="574.5" r="3.25"/><circle cx="176.5" cy="576.8" r="3.25"/><circle cx="167.2" cy="581.5" r="3.25"/><circle cx="188.2" cy="576.3" r="3.25"/><circle cx="196.4" cy="572.8" r="3.25"/><circle cx="212.7" cy="571.0" r="3.25"/><circle cx="149.1" cy="578.0" r="3.25"/><circle cx="145.0" cy="579.2" r="3.25"/><circle cx="159.0" cy="589.1" r="3.25"/><circle cx="173.0" cy="589.1" r="3.25"/><circle cx="141.5" cy="593.2" r="3.25"/><circle cx="138.0" cy="599.0" r="3.25"/><circle cx="138.0" cy="586.2" r="3.25"/><circle cx="199.9" cy="601.4" r="3.25"/><circle cx="189.4" cy="616.5" r="3.25"/><circle cx="192.9" cy="620.1" r="3.25"/><circle cx="201.1" cy="618.3" r="3.25"/><circle cx="175.4" cy="620.6" r="3.25"/><circle cx="185.9" cy="627.1" r="3.25"/><circle cx="176.5" cy="627.6" r="3.25"/><circle cx="168.4" cy="628.2" r="3.25"/><circle cx="159.0" cy="628.8" r="3.25"/><circle cx="161.4" cy="632.9" r="3.25"/><circle cx="153.2" cy="634.6" r="3.25"/><circle cx="148.5" cy="641.1" r="3.25"/><circle cx="141.5" cy="637.6" r="3.25"/><circle cx="138.0" cy="639.9" r="3.25"/><circle cx="156.7" cy="638.7" r="3.25"/><circle cx="164.9" cy="635.2" r="3.25"/><circle cx="170.7" cy="631.7" r="3.25"/><circle cx="173.0" cy="637.6" r="3.25"/><circle cx="178.9" cy="635.2" r="3.25"/><circle cx="184.7" cy="637.6" r="3.25"/><circle cx="177.7" cy="642.2" r="3.25"/><circle cx="190.6" cy="632.9" r="3.25"/><circle cx="196.4" cy="631.7" r="3.25"/><circle cx="202.2" cy="628.2" r="3.25"/><circle cx="205.7" cy="634.1" r="3.25"/><circle cx="191.7" cy="641.1" r="3.25"/><circle cx="198.7" cy="641.1" r="3.25"/><circle cx="206.9" cy="641.1" r="3.25"/><circle cx="215.1" cy="635.2" r="3.25"/><circle cx="152.0" cy="643.4" r="3.25"/><circle cx="143.8" cy="642.2" r="3.25"/><circle cx="224.9" cy="571.6" r="3.25"/><circle cx="226.7" cy="600.8" r="3.25"/><circle cx="227.3" cy="622.4" r="3.25"/><circle cx="233.7" cy="621.8" r="3.25"/><circle cx="223.2" cy="627.6" r="3.25"/><circle cx="228.4" cy="627.1" r="3.25"/><circle cx="235.4" cy="630.0" r="3.25"/><circle cx="238.9" cy="632.3" r="3.25"/><circle cx="226.7" cy="638.2" r="3.25"/><circle cx="230.2" cy="638.2" r="3.25"/><circle cx="235.4" cy="643.4" r="3.25"/><circle cx="246.5" cy="641.7" r="3.25"/><circle cx="65.7" cy="646.5" r="3.25"/><circle cx="68.3" cy="642.5" r="3.25"/><circle cx="70.5" cy="639.1" r="3.25"/><circle cx="74.9" cy="635.1" r="3.25"/><circle cx="79.2" cy="631.3" r="3.25"/><circle cx="84.8" cy="626.5" r="3.25"/><circle cx="87.5" cy="623.0" r="3.25"/><circle cx="89.9" cy="619.7" r="3.25"/><circle cx="93.7" cy="615.2" r="3.25"/><circle cx="96.3" cy="613.1" r="3.25"/><circle cx="99.1" cy="614.5" r="3.25"/><circle cx="95.2" cy="619.6" r="3.25"/><circle cx="93.3" cy="624.5" r="3.25"/><circle cx="93.2" cy="632.9" r="3.25"/><circle cx="98.2" cy="637.1" r="3.25"/><circle cx="105.2" cy="638.0" r="3.25"/><circle cx="111.1" cy="638.4" r="3.25"/><circle cx="115.4" cy="638.8" r="3.25"/><circle cx="115.7" cy="641.6" r="3.25"/><circle cx="108.9" cy="642.4" r="3.25"/><circle cx="104.4" cy="642.6" r="3.25"/><circle cx="99.8" cy="642.8" r="3.25"/><circle cx="95.3" cy="643.0" r="3.25"/><circle cx="90.7" cy="643.1" r="3.25"/><circle cx="86.2" cy="643.3" r="3.25"/><circle cx="81.8" cy="643.4" r="3.25"/><circle cx="77.4" cy="643.5" r="3.25"/><circle cx="73.1" cy="643.6" r="3.25"/><circle cx="69.4" cy="643.8" r="3.25"/><circle cx="110.5" cy="613.9" r="3.25"/><circle cx="116.1" cy="610.2" r="3.25"/><circle cx="118.3" cy="631.5" r="3.25"/><circle cx="115.1" cy="626.4" r="3.25"/><circle cx="114.1" cy="617.9" r="3.25"/><circle cx="220.1" cy="489.7" r="3.25"/><circle cx="224.1" cy="495.0" r="3.25"/><circle cx="228.0" cy="483.1" r="3.25"/><circle cx="226.7" cy="480.5" r="3.25"/><circle cx="208.3" cy="495.6" r="3.25"/><circle cx="209.6" cy="501.5" r="3.25"/><circle cx="214.9" cy="501.5" r="3.25"/><circle cx="217.5" cy="508.1" r="3.25"/><circle cx="213.6" cy="512.0" r="3.25"/><circle cx="221.5" cy="513.4" r="3.25"/><circle cx="226.7" cy="509.4" r="3.25"/><circle cx="229.3" cy="517.3" r="3.25"/><circle cx="205.7" cy="522.6" r="3.25"/><circle cx="207.0" cy="527.8" r="3.25"/><circle cx="213.6" cy="519.9" r="3.25"/><circle cx="218.8" cy="519.9" r="3.25"/><circle cx="221.5" cy="525.2" r="3.25"/><circle cx="225.4" cy="529.1" r="3.25"/><circle cx="229.3" cy="525.2" r="3.25"/><circle cx="205.7" cy="530.4" r="3.25"/><circle cx="209.6" cy="535.7" r="3.25"/><circle cx="214.9" cy="538.3" r="3.25"/><circle cx="218.8" cy="535.7" r="3.25"/><circle cx="224.1" cy="538.3" r="3.25"/><circle cx="226.7" cy="533.1" r="3.25"/><circle cx="221.5" cy="543.6" r="3.25"/><circle cx="226.7" cy="543.6" r="3.25"/><circle cx="218.8" cy="548.8" r="3.25"/><circle cx="224.1" cy="551.5" r="3.25"/><circle cx="229.3" cy="548.8" r="3.25"/><circle cx="213.6" cy="554.1" r="3.25"/><circle cx="208.3" cy="556.7" r="3.25"/><circle cx="203.1" cy="554.1" r="3.25"/><circle cx="197.8" cy="551.5" r="3.25"/><circle cx="192.6" cy="548.8" r="3.25"/><circle cx="186.0" cy="543.6" r="3.25"/><circle cx="179.4" cy="543.6" r="3.25"/><circle cx="174.2" cy="548.8" r="3.25"/><circle cx="168.9" cy="554.1" r="3.25"/><circle cx="163.6" cy="556.7" r="3.25"/><circle cx="179.4" cy="551.5" r="3.25"/><circle cx="187.3" cy="554.1" r="3.25"/><circle cx="192.6" cy="556.7" r="3.25"/><circle cx="200.4" cy="559.3" r="3.25"/><circle cx="159.7" cy="552.8" r="3.25"/><circle cx="170.2" cy="533.1" r="3.25"/><circle cx="172.8" cy="537.0" r="3.25"/><circle cx="166.3" cy="540.9" r="3.25"/><circle cx="159.7" cy="531.8" r="3.25"/><circle cx="162.3" cy="526.5" r="3.25"/><circle cx="155.8" cy="539.6" r="3.25"/><circle cx="147.9" cy="527.8" r="3.25"/><circle cx="145.3" cy="537.0" r="3.25"/><circle cx="142.6" cy="546.2" r="3.25"/><circle cx="155.8" cy="519.9" r="3.25"/><circle cx="153.1" cy="518.6" r="3.25"/><circle cx="158.4" cy="517.3" r="3.25"/><circle cx="159.7" cy="509.4" r="3.25"/><circle cx="166.3" cy="505.5" r="3.25"/><circle cx="170.2" cy="506.8" r="3.25"/><circle cx="168.9" cy="514.7" r="3.25"/><circle cx="186.0" cy="508.1" r="3.25"/><circle cx="184.7" cy="512.0" r="3.25"/><circle cx="183.4" cy="523.9" r="3.25"/><circle cx="216.2" cy="525.2" r="3.25"/><circle cx="217.5" cy="530.4" r="3.25"/><circle cx="224.1" cy="522.6" r="3.25"/><circle cx="150.0" cy="634.4" r="3.25"/><circle cx="152.9" cy="638.8" r="3.25"/><circle cx="155.8" cy="641.7" r="3.25"/><circle cx="158.8" cy="635.9" r="3.25"/><circle cx="161.7" cy="638.8" r="3.25"/><circle cx="164.6" cy="633.0" r="3.25"/><circle cx="169.0" cy="637.3" r="3.25"/><circle cx="171.9" cy="631.5" r="3.25"/><circle cx="174.8" cy="635.9" r="3.25"/><circle cx="179.2" cy="638.8" r="3.25"/><circle cx="177.7" cy="643.2" r="3.25"/><circle cx="182.1" cy="640.3" r="3.25"/><circle cx="186.5" cy="637.3" r="3.25"/><circle cx="188.0" cy="633.0" r="3.25"/><circle cx="190.9" cy="638.8" r="3.25"/><circle cx="193.8" cy="641.7" r="3.25"/><circle cx="196.7" cy="637.3" r="3.25"/><circle cx="195.3" cy="633.0" r="3.25"/><circle cx="199.6" cy="638.8" r="3.25"/><circle cx="202.6" cy="641.7" r="3.25"/><circle cx="205.5" cy="635.9" r="3.25"/><circle cx="208.4" cy="640.3" r="3.25"/><circle cx="198.2" cy="631.5" r="3.25"/><circle cx="186.5" cy="627.1" r="3.25"/><circle cx="189.4" cy="616.9" r="3.25"/><circle cx="193.8" cy="620.5" r="3.25"/><circle cx="167.5" cy="628.6" r="3.25"/><circle cx="158.8" cy="630.0" r="3.25"/><circle cx="173.4" cy="625.7" r="3.25"/><circle cx="182.1" cy="628.6" r="3.25"/><circle cx="154.4" cy="633.0" r="3.25"/><circle cx="151.5" cy="638.8" r="3.25"/><circle cx="167.5" cy="641.7" r="3.25"/><circle cx="183.6" cy="643.2" r="3.25"/><circle cx="189.4" cy="643.2" r="3.25"/><circle cx="201.1" cy="631.5" r="3.25"/><circle cx="206.9" cy="633.0" r="3.25"/><circle cx="192.3" cy="628.6" r="3.25"/><circle cx="159.3" cy="553.4" r="3.25"/><circle cx="157.0" cy="540.5" r="3.25"/><circle cx="155.8" cy="539.3" r="3.25"/><circle cx="167.5" cy="541.1" r="3.25"/><circle cx="173.4" cy="534.7" r="3.25"/><circle cx="166.4" cy="533.5" r="3.25"/><circle cx="159.3" cy="532.3" r="3.25"/><circle cx="152.3" cy="576.7" r="3.25"/><circle cx="150.0" cy="574.4" r="3.25"/><circle cx="158.8" cy="588.4" r="3.25"/><circle cx="172.8" cy="588.4" r="3.25"/><circle cx="188.5" cy="576.7" r="3.25"/><circle cx="195.5" cy="570.9" r="3.25"/><circle cx="200.2" cy="565.0" r="3.25"/><circle cx="196.7" cy="558.0" r="3.25"/><circle cx="213.1" cy="553.4" r="3.25"/><circle cx="214.2" cy="569.7" r="3.25"/><circle cx="224.7" cy="569.7" r="3.25"/><circle cx="222.4" cy="561.5" r="3.25"/><circle cx="220.1" cy="556.9" r="3.25"/><circle cx="224.7" cy="548.7" r="3.25"/><circle cx="227.1" cy="541.7" r="3.25"/><circle cx="222.4" cy="539.3" r="3.25"/><circle cx="215.4" cy="537.0" r="3.25"/><circle cx="208.4" cy="533.5" r="3.25"/><circle cx="204.9" cy="530.0" r="3.25"/><circle cx="229.4" cy="565.0" r="3.25"/><circle cx="206.1" cy="558.0" r="3.25"/><circle cx="202.6" cy="546.4" r="3.25"/><circle cx="192.0" cy="551.0" r="3.25"/><circle cx="190.9" cy="558.0" r="3.25"/><circle cx="188.5" cy="567.4" r="3.25"/><circle cx="159.2" cy="566.5" r="3.25"/><circle cx="161.5" cy="563.0" r="3.25"/><circle cx="163.7" cy="559.7" r="3.25"/><circle cx="166.6" cy="556.2" r="3.25"/><circle cx="169.1" cy="553.1" r="3.25"/><circle cx="174.8" cy="548.5" r="3.25"/><circle cx="178.3" cy="546.2" r="3.25"/><circle cx="181.2" cy="544.1" r="3.25"/><circle cx="186.6" cy="541.8" r="3.25"/><circle cx="193.6" cy="544.1" r="3.25"/><circle cx="200.2" cy="546.3" r="3.25"/><circle cx="203.5" cy="547.0" r="3.25"/><circle cx="205.1" cy="549.5" r="3.25"/><circle cx="203.1" cy="553.2" r="3.25"/><circle cx="196.6" cy="557.8" r="3.25"/><circle cx="198.8" cy="562.7" r="3.25"/><circle cx="199.5" cy="564.4" r="3.25"/><circle cx="195.7" cy="571.2" r="3.25"/><circle cx="198.8" cy="571.0" r="3.25"/><circle cx="197.3" cy="573.0" r="3.25"/><circle cx="189.7" cy="573.2" r="3.25"/><circle cx="189.7" cy="576.5" r="3.25"/><circle cx="185.0" cy="576.5" r="3.25"/><circle cx="178.9" cy="576.9" r="3.25"/><circle cx="175.7" cy="579.1" r="3.25"/><circle cx="171.0" cy="581.4" r="3.25"/><circle cx="166.4" cy="583.7" r="3.25"/><circle cx="164.4" cy="586.3" r="3.25"/><circle cx="160.7" cy="584.5" r="3.25"/><circle cx="159.6" cy="576.3" r="3.25"/><circle cx="158.4" cy="570.3" r="3.25"/><circle cx="238.4" cy="469.2" r="3.25"/><circle cx="245.4" cy="466.3" r="3.25"/><circle cx="240.7" cy="472.7" r="3.25"/><circle cx="243.1" cy="475.0" r="3.25"/><circle cx="247.7" cy="477.4" r="3.25"/><circle cx="254.7" cy="473.9" r="3.25"/><circle cx="257.1" cy="468.0" r="3.25"/><circle cx="229.1" cy="479.7" r="3.25"/><circle cx="232.6" cy="478.5" r="3.25"/><circle cx="236.1" cy="477.4" r="3.25"/><circle cx="227.9" cy="483.2" r="3.25"/><circle cx="233.7" cy="482.0" r="3.25"/><circle cx="238.4" cy="480.9" r="3.25"/><circle cx="244.2" cy="484.4" r="3.25"/><circle cx="241.9" cy="489.1" r="3.25"/><circle cx="247.7" cy="490.2" r="3.25"/><circle cx="250.1" cy="494.9" r="3.25"/><circle cx="231.4" cy="491.4" r="3.25"/><circle cx="234.9" cy="493.7" r="3.25"/><circle cx="237.2" cy="494.9" r="3.25"/><circle cx="220.3" cy="489.1" r="3.25"/><circle cx="224.4" cy="494.9" r="3.25"/><circle cx="226.7" cy="497.2" r="3.25"/><circle cx="208.0" cy="494.9" r="3.25"/><circle cx="209.2" cy="500.7" r="3.25"/><circle cx="212.7" cy="501.9" r="3.25"/><circle cx="215.0" cy="505.4" r="3.25"/><circle cx="218.5" cy="507.7" r="3.25"/><circle cx="224.4" cy="503.1" r="3.25"/><circle cx="229.1" cy="505.4" r="3.25"/><circle cx="237.2" cy="500.7" r="3.25"/><circle cx="241.9" cy="499.6" r="3.25"/><circle cx="231.4" cy="510.1" r="3.25"/><circle cx="234.9" cy="508.9" r="3.25"/><circle cx="220.9" cy="514.7" r="3.25"/><circle cx="226.7" cy="514.7" r="3.25"/><circle cx="212.7" cy="512.4" r="3.25"/><circle cx="187.0" cy="507.7" r="3.25"/><circle cx="184.7" cy="511.2" r="3.25"/><circle cx="114.0" cy="640.5" r="3.25"/><circle cx="118.0" cy="643.0" r="3.25"/><circle cx="122.0" cy="640.5" r="3.25"/><circle cx="126.0" cy="643.0" r="3.25"/><circle cx="111.0" cy="643.5" r="3.25"/><circle cx="120.0" cy="637.0" r="3.25"/><circle cx="116.0" cy="637.5" r="3.25"/><circle cx="107.0" cy="641.0" r="3.25"/><circle cx="103.0" cy="642.0" r="3.25"/></g>
<polygon fill="#000" points="98.5,618.8 103.8,617.0 108.2,619.6 109.9,624.9 108.2,631.0 102.0,632.8 97.7,631.9 96.3,625.8"/>
<g fill="#000"><circle cx="99.4" cy="621.2" r="3.25"/><circle cx="102.4" cy="619.2" r="3.25"/><circle cx="105.7" cy="620.5" r="3.25"/><circle cx="107.4" cy="624.2" r="3.25"/><circle cx="107.4" cy="628.5" r="3.25"/><circle cx="102.5" cy="630.2" r="3.25"/><circle cx="100.2" cy="631.4" r="3.25"/><circle cx="98.8" cy="626.5" r="3.25"/><circle cx="103.8" cy="630.2" r="3.25"/><circle cx="71.4" cy="630.2" r="3.25"/><circle cx="67.9" cy="637.2" r="3.25"/><circle cx="116.0" cy="622.3" r="3.25"/><circle cx="112.5" cy="637.2" r="3.25"/><circle cx="165.3" cy="642.4" r="3.25"/><circle cx="214.2" cy="632.2" r="3.25"/><circle cx="184.5" cy="563.9" r="3.25"/><circle cx="185.0" cy="562.7" r="3.25"/><circle cx="179.2" cy="568.5" r="3.25"/><circle cx="173.4" cy="574.4" r="3.25"/><circle cx="188.5" cy="553.4" r="3.25"/><circle cx="167.5" cy="568.5" r="3.25"/><circle cx="197.9" cy="593.1" r="3.25"/><circle cx="200.2" cy="587.2" r="3.25"/><circle cx="206.1" cy="593.1" r="3.25"/><circle cx="179.2" cy="590.7" r="3.25"/><circle cx="183.9" cy="594.2" r="3.25"/><circle cx="164.0" cy="595.4" r="3.25"/><circle cx="157.0" cy="597.7" r="3.25"/></g></g>
<clipPath id="clipc"><rect x="58.3" y="427.5" width="243.2" height="223.9"/></clipPath>
<line x1="44.90" y1="664.18" x2="314.90" y2="414.82" stroke="#bdbdbd" stroke-width="1.7" clip-path="url(#clipc)"/>
<rect x="58.30" y="427.50" width="121.90" height="41.40" fill="#fff" stroke="#333" stroke-width="1"/>
<circle cx="68.4" cy="441.2" r="2.2" fill="#006d2c"/>
<circle cx="68.4" cy="455.2" r="2.2" fill="#000"/>
<text x="79.40" y="445.60" font-size="11.5" text-anchor="start" fill="#000" textLength="95.90" lengthAdjust="spacingAndGlyphs">Herbaceous plants</text>
<text x="79.40" y="459.60" font-size="11.5" text-anchor="start" fill="#000">Other taxa</text>
<rect x="58.3" y="427.5" width="243.2" height="223.9" fill="none" stroke="#333" stroke-width="1"/>
<line x1="50.50" y1="643.40" x2="58.30" y2="643.40" stroke="#333" stroke-width="1"/>
<line x1="67.40" y1="651.40" x2="67.40" y2="658.50" stroke="#333" stroke-width="1"/>
<text x="41.70" y="643.40" font-size="12" text-anchor="middle" fill="#000" transform="rotate(-90 41.70 643.40)">0.0</text>
<text x="67.40" y="676.60" font-size="12" text-anchor="middle" fill="#000">0.0</text>
<line x1="50.50" y1="601.84" x2="58.30" y2="601.84" stroke="#333" stroke-width="1"/>
<line x1="112.40" y1="651.40" x2="112.40" y2="658.50" stroke="#333" stroke-width="1"/>
<text x="41.70" y="601.84" font-size="12" text-anchor="middle" fill="#000" transform="rotate(-90 41.70 601.84)">0.2</text>
<text x="112.40" y="676.60" font-size="12" text-anchor="middle" fill="#000">0.2</text>
<line x1="50.50" y1="560.28" x2="58.30" y2="560.28" stroke="#333" stroke-width="1"/>
<line x1="157.40" y1="651.40" x2="157.40" y2="658.50" stroke="#333" stroke-width="1"/>
<text x="41.70" y="560.28" font-size="12" text-anchor="middle" fill="#000" transform="rotate(-90 41.70 560.28)">0.4</text>
<text x="157.40" y="676.60" font-size="12" text-anchor="middle" fill="#000">0.4</text>
<line x1="50.50" y1="518.72" x2="58.30" y2="518.72" stroke="#333" stroke-width="1"/>
<line x1="202.40" y1="651.40" x2="202.40" y2="658.50" stroke="#333" stroke-width="1"/>
<text x="41.70" y="518.72" font-size="12" text-anchor="middle" fill="#000" transform="rotate(-90 41.70 518.72)">0.6</text>
<text x="202.40" y="676.60" font-size="12" text-anchor="middle" fill="#000">0.6</text>
<line x1="50.50" y1="477.16" x2="58.30" y2="477.16" stroke="#333" stroke-width="1"/>
<line x1="247.40" y1="651.40" x2="247.40" y2="658.50" stroke="#333" stroke-width="1"/>
<text x="41.70" y="477.16" font-size="12" text-anchor="middle" fill="#000" transform="rotate(-90 41.70 477.16)">0.8</text>
<text x="247.40" y="676.60" font-size="12" text-anchor="middle" fill="#000">0.8</text>
<line x1="50.50" y1="435.60" x2="58.30" y2="435.60" stroke="#333" stroke-width="1"/>
<line x1="292.40" y1="651.40" x2="292.40" y2="658.50" stroke="#333" stroke-width="1"/>
<text x="41.70" y="435.60" font-size="12" text-anchor="middle" fill="#000" transform="rotate(-90 41.70 435.60)">1.0</text>
<text x="292.40" y="676.60" font-size="12" text-anchor="middle" fill="#000">1.0</text>
<text x="14.20" y="539.30" font-size="14.8" text-anchor="middle" fill="#000" transform="rotate(-90 14.20 539.30)" textLength="165.20" lengthAdjust="spacingAndGlyphs">Observed heterozygosity</text>
<text x="179.35" y="704.00" font-size="14.8" text-anchor="middle" fill="#000" textLength="161.00" lengthAdjust="spacingAndGlyphs">Expected heterozygosity</text>
<clipPath id="clipd"><rect x="416.4" y="427.6" width="240.4" height="221.2"/></clipPath><g clip-path="url(#clipd)"><polygon fill="#000" points="421.8,634.4 427.7,629.7 437.0,627.4 446.4,625.1 451.0,622.7 456.9,620.4 462.7,615.7 467.4,612.2 470.9,608.7 474.4,602.9 479.1,600.5 483.7,601.7 488.4,597.0 493.1,595.9 500.1,602.9 500.1,639.1 486.1,637.9 474.4,636.7 462.7,636.7 451.0,636.7 439.4,637.9 427.7,636.7 423.0,636.2"/>
<polygon fill="#000" points="491.3,604.0 498.3,607.5 503.0,608.7 507.7,604.0 510.0,599.4 517.0,598.2 521.7,598.2 525.2,592.4 529.9,587.7 531.0,581.8 534.5,579.5 540.4,576.0 545.1,571.3 550.9,573.7 556.7,564.3 580.1,564.3 580.1,623.9 571.9,625.1 566.1,627.4 559.1,629.7 552.1,630.9 545.1,633.2 536.9,632.1 531.0,633.2 525.2,632.1 517.0,635.6 510.0,635.6 503.0,635.6 496.0,634.4 491.3,634.4"/>
<polygon fill="#000" points="572.3,564.3 631.9,564.3 630.7,571.3 626.1,573.7 624.9,579.5 623.7,585.4 621.4,592.4 617.9,598.2 617.9,604.0 619.0,611.0 617.9,615.7 612.0,618.1 605.0,618.1 598.0,618.1 592.2,619.2 588.7,621.6 586.3,625.1 584.0,627.4 579.3,626.2 572.3,625.1"/>
<polygon fill="#000" points="531.0,591.1 532.2,581.7 536.9,577.1 542.7,572.4 546.2,567.7 549.7,563.1 554.4,558.4 557.9,556.1 561.4,551.4 566.1,552.5 569.6,547.9 568.4,542.0 570.7,533.9 575.4,530.4 580.1,528.0 580.1,591.1"/>
<polygon fill="#000" points="589.8,502.3 631.9,502.3 633.1,509.3 630.7,516.3 631.9,524.5 633.1,530.4 630.7,537.4 628.4,544.4 627.2,553.7 628.4,563.1 627.2,570.1 626.1,577.1 623.7,584.1 624.9,591.1 572.3,591.1 572.3,542.0 577.0,524.5 588.7,511.7 600.4,502.3"/>
<polygon fill="#000" points="528.0,575.0 536.0,566.0 541.0,568.0 547.0,566.0 551.0,559.0 557.0,556.0 561.0,553.0 563.0,548.0 567.0,551.0 571.0,553.0 570.0,545.0 570.0,536.0 574.0,531.0 578.0,528.0 577.0,523.0 581.0,520.0 587.0,517.0 589.0,515.0 591.8,509.3 597.0,505.8 600.5,500.5 602.3,495.3 604.0,490.9 602.3,486.5 604.0,479.5 605.8,471.6 611.0,467.3 615.0,462.0 620.0,462.0 625.0,470.0 630.0,490.0 634.0,520.0 636.0,560.0 560.0,600.0 528.0,600.0"/>
<polygon fill="#000" points="604.0,479.5 608.3,468.0 613.4,456.0 618.6,445.8 623.7,440.7 622.8,461.2 630.5,463.7 634.8,471.4 635.6,478.2 633.9,486.8 632.2,495.3 616.9,498.7 604.9,486.8"/>
<polygon fill="#000" points="598.0,511.1 600.4,499.4 603.9,492.4 609.7,487.7 615.5,487.7 619.0,485.4 623.7,485.4 628.4,490.1 629.6,497.1 631.9,502.9 633.1,511.1"/>
<polygon fill="#000" points="603.9,485.4 605.0,477.2 609.7,471.4 614.4,469.0 617.9,471.4 616.7,479.6 614.4,485.4"/>
<g fill="#000"><circle cx="423.5" cy="636.4" r="3.25"/><circle cx="428.3" cy="632.3" r="3.25"/><circle cx="433.0" cy="631.1" r="3.25"/><circle cx="437.7" cy="629.9" r="3.25"/><circle cx="442.3" cy="628.7" r="3.25"/><circle cx="447.5" cy="627.4" r="3.25"/><circle cx="452.0" cy="625.1" r="3.25"/><circle cx="458.5" cy="622.4" r="3.25"/><circle cx="464.3" cy="617.8" r="3.25"/><circle cx="469.2" cy="614.1" r="3.25"/><circle cx="473.1" cy="610.0" r="3.25"/><circle cx="475.6" cy="605.2" r="3.25"/><circle cx="478.4" cy="603.1" r="3.25"/><circle cx="485.6" cy="603.5" r="3.25"/><circle cx="489.0" cy="599.6" r="3.25"/><circle cx="486.3" cy="635.3" r="3.25"/><circle cx="480.5" cy="634.7" r="3.25"/><circle cx="474.4" cy="634.1" r="3.25"/><circle cx="468.6" cy="634.1" r="3.25"/><circle cx="462.7" cy="634.1" r="3.25"/><circle cx="456.9" cy="634.1" r="3.25"/><circle cx="450.8" cy="634.2" r="3.25"/><circle cx="444.9" cy="634.7" r="3.25"/><circle cx="439.6" cy="635.3" r="3.25"/><circle cx="433.8" cy="634.7" r="3.25"/><circle cx="428.0" cy="634.2" r="3.25"/><circle cx="425.2" cy="634.7" r="3.25"/><circle cx="442.6" cy="580.1" r="3.25"/><circle cx="470.9" cy="586.3" r="3.25"/><circle cx="480.2" cy="590.0" r="3.25"/><circle cx="486.1" cy="593.5" r="3.25"/><circle cx="462.1" cy="595.3" r="3.25"/><circle cx="469.7" cy="594.7" r="3.25"/><circle cx="465.1" cy="598.8" r="3.25"/><circle cx="449.9" cy="602.9" r="3.25"/><circle cx="452.2" cy="607.5" r="3.25"/><circle cx="459.2" cy="608.1" r="3.25"/><circle cx="446.4" cy="612.2" r="3.25"/><circle cx="437.0" cy="617.5" r="3.25"/><circle cx="433.5" cy="621.6" r="3.25"/><circle cx="442.9" cy="619.2" r="3.25"/><circle cx="444.0" cy="622.1" r="3.25"/><circle cx="452.2" cy="617.5" r="3.25"/><circle cx="459.2" cy="617.5" r="3.25"/><circle cx="466.2" cy="607.5" r="3.25"/><circle cx="463.9" cy="612.2" r="3.25"/><circle cx="476.7" cy="602.9" r="3.25"/><circle cx="439.4" cy="636.7" r="3.25"/><circle cx="486.1" cy="635.6" r="3.25"/><circle cx="424.8" cy="633.8" r="3.25"/><circle cx="497.7" cy="610.1" r="3.25"/><circle cx="504.8" cy="610.5" r="3.25"/><circle cx="510.0" cy="605.2" r="3.25"/><circle cx="510.4" cy="601.9" r="3.25"/><circle cx="517.0" cy="600.8" r="3.25"/><circle cx="523.9" cy="599.5" r="3.25"/><circle cx="527.0" cy="594.2" r="3.25"/><circle cx="532.4" cy="588.2" r="3.25"/><circle cx="532.5" cy="584.0" r="3.25"/><circle cx="535.9" cy="581.7" r="3.25"/><circle cx="542.2" cy="577.8" r="3.25"/><circle cx="544.1" cy="573.7" r="3.25"/><circle cx="570.9" cy="622.6" r="3.25"/><circle cx="565.3" cy="624.9" r="3.25"/><circle cx="558.6" cy="627.2" r="3.25"/><circle cx="551.2" cy="628.4" r="3.25"/><circle cx="545.4" cy="630.7" r="3.25"/><circle cx="536.4" cy="629.5" r="3.25"/><circle cx="531.5" cy="630.7" r="3.25"/><circle cx="524.2" cy="629.7" r="3.25"/><circle cx="520.1" cy="631.4" r="3.25"/><circle cx="517.0" cy="633.0" r="3.25"/><circle cx="510.0" cy="633.0" r="3.25"/><circle cx="503.4" cy="633.0" r="3.25"/><circle cx="497.2" cy="593.5" r="3.25"/><circle cx="507.7" cy="597.0" r="3.25"/><circle cx="510.0" cy="585.9" r="3.25"/><circle cx="515.9" cy="589.4" r="3.25"/><circle cx="516.4" cy="593.5" r="3.25"/><circle cx="518.2" cy="581.3" r="3.25"/><circle cx="521.1" cy="574.8" r="3.25"/><circle cx="525.2" cy="577.8" r="3.25"/><circle cx="525.2" cy="581.8" r="3.25"/><circle cx="532.2" cy="573.1" r="3.25"/><circle cx="535.7" cy="574.3" r="3.25"/><circle cx="543.3" cy="641.4" r="3.25"/><circle cx="629.6" cy="569.0" r="3.25"/><circle cx="623.5" cy="573.2" r="3.25"/><circle cx="622.3" cy="579.0" r="3.25"/><circle cx="621.2" cy="584.5" r="3.25"/><circle cx="619.2" cy="591.0" r="3.25"/><circle cx="615.3" cy="598.2" r="3.25"/><circle cx="615.3" cy="604.5" r="3.25"/><circle cx="616.5" cy="610.4" r="3.25"/><circle cx="616.9" cy="613.3" r="3.25"/><circle cx="612.0" cy="615.5" r="3.25"/><circle cx="605.0" cy="615.5" r="3.25"/><circle cx="597.5" cy="615.5" r="3.25"/><circle cx="590.7" cy="617.1" r="3.25"/><circle cx="586.5" cy="620.1" r="3.25"/><circle cx="584.5" cy="623.2" r="3.25"/><circle cx="584.6" cy="624.9" r="3.25"/><circle cx="634.2" cy="570.2" r="3.25"/><circle cx="638.3" cy="578.3" r="3.25"/><circle cx="634.2" cy="585.4" r="3.25"/><circle cx="633.1" cy="590.0" r="3.25"/><circle cx="627.8" cy="599.9" r="3.25"/><circle cx="623.7" cy="602.9" r="3.25"/><circle cx="621.4" cy="611.0" r="3.25"/><circle cx="620.2" cy="619.2" r="3.25"/><circle cx="603.9" cy="621.6" r="3.25"/><circle cx="605.0" cy="623.9" r="3.25"/><circle cx="587.5" cy="629.7" r="3.25"/><circle cx="581.7" cy="634.4" r="3.25"/><circle cx="584.0" cy="636.7" r="3.25"/><circle cx="591.0" cy="641.4" r="3.25"/><circle cx="594.5" cy="637.9" r="3.25"/><circle cx="600.4" cy="635.6" r="3.25"/><circle cx="622.5" cy="630.9" r="3.25"/><circle cx="624.9" cy="633.2" r="3.25"/><circle cx="579.3" cy="626.2" r="3.25"/><circle cx="592.2" cy="621.6" r="3.25"/><circle cx="534.0" cy="583.6" r="3.25"/><circle cx="538.5" cy="579.1" r="3.25"/><circle cx="544.8" cy="574.0" r="3.25"/><circle cx="548.3" cy="569.3" r="3.25"/><circle cx="551.6" cy="564.9" r="3.25"/><circle cx="555.8" cy="560.6" r="3.25"/><circle cx="560.0" cy="557.6" r="3.25"/><circle cx="560.8" cy="553.9" r="3.25"/><circle cx="568.2" cy="554.1" r="3.25"/><circle cx="572.1" cy="547.4" r="3.25"/><circle cx="570.9" cy="542.8" r="3.25"/><circle cx="572.1" cy="538.7" r="3.25"/><circle cx="572.3" cy="535.9" r="3.25"/><circle cx="559.1" cy="537.9" r="3.25"/><circle cx="555.6" cy="543.2" r="3.25"/><circle cx="554.4" cy="549.0" r="3.25"/><circle cx="550.3" cy="557.8" r="3.25"/><circle cx="536.3" cy="563.6" r="3.25"/><circle cx="541.5" cy="567.7" r="3.25"/><circle cx="532.2" cy="573.0" r="3.25"/><circle cx="521.1" cy="574.7" r="3.25"/><circle cx="525.2" cy="577.1" r="3.25"/><circle cx="518.8" cy="581.2" r="3.25"/><circle cx="525.8" cy="581.7" r="3.25"/><circle cx="510.0" cy="585.2" r="3.25"/><circle cx="563.7" cy="549.0" r="3.25"/><circle cx="576.0" cy="523.4" r="3.25"/><circle cx="576.6" cy="508.2" r="3.25"/><circle cx="549.7" cy="567.7" r="3.25"/><circle cx="547.4" cy="572.4" r="3.25"/><circle cx="630.6" cy="508.5" r="3.25"/><circle cx="628.1" cy="516.7" r="3.25"/><circle cx="629.3" cy="525.0" r="3.25"/><circle cx="630.6" cy="529.5" r="3.25"/><circle cx="628.3" cy="536.5" r="3.25"/><circle cx="625.8" cy="544.0" r="3.25"/><circle cx="625.2" cy="548.7" r="3.25"/><circle cx="624.6" cy="554.0" r="3.25"/><circle cx="625.2" cy="558.7" r="3.25"/><circle cx="625.8" cy="562.6" r="3.25"/><circle cx="624.7" cy="569.6" r="3.25"/><circle cx="623.6" cy="576.3" r="3.25"/><circle cx="578.9" cy="526.3" r="3.25"/><circle cx="581.8" cy="523.1" r="3.25"/><circle cx="584.8" cy="519.8" r="3.25"/><circle cx="587.7" cy="516.6" r="3.25"/><circle cx="634.2" cy="508.2" r="3.25"/><circle cx="633.1" cy="528.0" r="3.25"/><circle cx="637.1" cy="539.1" r="3.25"/><circle cx="634.8" cy="543.2" r="3.25"/><circle cx="628.4" cy="568.3" r="3.25"/><circle cx="634.2" cy="567.7" r="3.25"/><circle cx="634.2" cy="575.9" r="3.25"/><circle cx="637.7" cy="578.2" r="3.25"/><circle cx="635.4" cy="584.1" r="3.25"/><circle cx="587.9" cy="481.1" r="3.25"/><circle cx="599.0" cy="475.8" r="3.25"/><circle cx="578.0" cy="508.0" r="3.25"/><circle cx="581.5" cy="503.9" r="3.25"/><circle cx="558.7" cy="537.7" r="3.25"/><circle cx="555.2" cy="543.0" r="3.25"/><circle cx="563.4" cy="548.2" r="3.25"/><circle cx="577.4" cy="523.1" r="3.25"/><circle cx="580.3" cy="529.6" r="3.25"/><circle cx="529.9" cy="576.7" r="3.25"/><circle cx="533.9" cy="572.2" r="3.25"/><circle cx="535.0" cy="568.4" r="3.25"/><circle cx="541.8" cy="570.5" r="3.25"/><circle cx="549.3" cy="567.3" r="3.25"/><circle cx="552.2" cy="561.3" r="3.25"/><circle cx="558.6" cy="558.1" r="3.25"/><circle cx="563.4" cy="554.0" r="3.25"/><circle cx="561.4" cy="550.1" r="3.25"/><circle cx="565.8" cy="553.3" r="3.25"/><circle cx="573.6" cy="552.7" r="3.25"/><circle cx="572.6" cy="545.0" r="3.25"/><circle cx="572.6" cy="540.5" r="3.25"/><circle cx="572.0" cy="537.6" r="3.25"/><circle cx="575.6" cy="533.1" r="3.25"/><circle cx="580.5" cy="527.5" r="3.25"/><circle cx="578.6" cy="525.1" r="3.25"/><circle cx="582.2" cy="522.3" r="3.25"/><circle cx="588.8" cy="518.8" r="3.25"/><circle cx="591.3" cy="516.1" r="3.25"/><circle cx="593.3" cy="511.5" r="3.25"/><circle cx="599.2" cy="507.2" r="3.25"/><circle cx="603.0" cy="501.4" r="3.25"/><circle cx="604.7" cy="496.2" r="3.25"/><circle cx="606.4" cy="490.0" r="3.25"/><circle cx="604.8" cy="487.1" r="3.25"/><circle cx="606.5" cy="480.1" r="3.25"/><circle cx="607.5" cy="473.6" r="3.25"/><circle cx="613.1" cy="468.9" r="3.25"/><circle cx="615.0" cy="464.6" r="3.25"/><circle cx="617.8" cy="463.4" r="3.25"/><circle cx="620.3" cy="467.4" r="3.25"/><circle cx="622.5" cy="470.6" r="3.25"/><circle cx="623.7" cy="475.6" r="3.25"/><circle cx="625.0" cy="480.6" r="3.25"/><circle cx="626.2" cy="485.6" r="3.25"/><circle cx="627.4" cy="490.3" r="3.25"/><circle cx="628.0" cy="494.6" r="3.25"/><circle cx="628.6" cy="498.9" r="3.25"/><circle cx="629.1" cy="503.2" r="3.25"/><circle cx="629.7" cy="507.5" r="3.25"/><circle cx="630.3" cy="511.8" r="3.25"/><circle cx="630.9" cy="516.1" r="3.25"/><circle cx="631.4" cy="520.1" r="3.25"/><circle cx="631.6" cy="524.6" r="3.25"/><circle cx="631.8" cy="529.0" r="3.25"/><circle cx="632.1" cy="533.5" r="3.25"/><circle cx="632.3" cy="537.9" r="3.25"/><circle cx="632.5" cy="542.4" r="3.25"/><circle cx="632.7" cy="546.8" r="3.25"/><circle cx="633.0" cy="551.2" r="3.25"/><circle cx="633.2" cy="555.7" r="3.25"/><circle cx="634.8" cy="557.7" r="3.25"/><circle cx="631.0" cy="559.7" r="3.25"/><circle cx="627.2" cy="561.7" r="3.25"/><circle cx="623.4" cy="563.7" r="3.25"/><circle cx="619.6" cy="565.7" r="3.25"/><circle cx="615.8" cy="567.7" r="3.25"/><circle cx="612.0" cy="569.7" r="3.25"/><circle cx="608.2" cy="571.7" r="3.25"/><circle cx="604.4" cy="573.7" r="3.25"/><circle cx="600.6" cy="575.7" r="3.25"/><circle cx="596.8" cy="577.7" r="3.25"/><circle cx="593.0" cy="579.7" r="3.25"/><circle cx="589.2" cy="581.7" r="3.25"/><circle cx="585.4" cy="583.7" r="3.25"/><circle cx="581.6" cy="585.7" r="3.25"/><circle cx="577.8" cy="587.7" r="3.25"/><circle cx="574.0" cy="589.7" r="3.25"/><circle cx="570.2" cy="591.7" r="3.25"/><circle cx="566.4" cy="593.7" r="3.25"/><circle cx="562.6" cy="595.7" r="3.25"/><circle cx="560.0" cy="597.4" r="3.25"/><circle cx="555.4" cy="597.4" r="3.25"/><circle cx="550.9" cy="597.4" r="3.25"/><circle cx="546.3" cy="597.4" r="3.25"/><circle cx="541.7" cy="597.4" r="3.25"/><circle cx="537.1" cy="597.4" r="3.25"/><circle cx="532.6" cy="597.4" r="3.25"/><circle cx="530.6" cy="600.0" r="3.25"/><circle cx="530.6" cy="595.0" r="3.25"/><circle cx="530.6" cy="590.0" r="3.25"/><circle cx="530.6" cy="585.0" r="3.25"/><circle cx="530.6" cy="580.0" r="3.25"/><circle cx="558.6" cy="537.5" r="3.25"/><circle cx="555.0" cy="542.6" r="3.25"/><circle cx="554.0" cy="549.2" r="3.25"/><circle cx="549.9" cy="557.4" r="3.25"/><circle cx="536.1" cy="563.0" r="3.25"/><circle cx="541.2" cy="567.1" r="3.25"/><circle cx="532.0" cy="572.7" r="3.25"/><circle cx="577.8" cy="509.3" r="3.25"/><circle cx="581.3" cy="500.5" r="3.25"/><circle cx="587.4" cy="500.4" r="3.25"/><circle cx="588.0" cy="494.6" r="3.25"/><circle cx="598.6" cy="494.6" r="3.25"/><circle cx="600.5" cy="478.9" r="3.25"/><circle cx="599.1" cy="469.2" r="3.25"/><circle cx="600.2" cy="474.7" r="3.25"/><circle cx="612.8" cy="463.8" r="3.25"/><circle cx="606.4" cy="480.4" r="3.25"/><circle cx="608.6" cy="474.7" r="3.25"/><circle cx="610.7" cy="469.0" r="3.25"/><circle cx="612.4" cy="465.0" r="3.25"/><circle cx="614.1" cy="461.0" r="3.25"/><circle cx="615.8" cy="457.2" r="3.25"/><circle cx="618.3" cy="452.1" r="3.25"/><circle cx="620.4" cy="447.6" r="3.25"/><circle cx="621.1" cy="440.6" r="3.25"/><circle cx="620.9" cy="445.7" r="3.25"/><circle cx="620.7" cy="450.8" r="3.25"/><circle cx="620.5" cy="455.9" r="3.25"/><circle cx="622.0" cy="463.6" r="3.25"/><circle cx="628.2" cy="465.0" r="3.25"/><circle cx="630.4" cy="468.8" r="3.25"/><circle cx="632.2" cy="471.7" r="3.25"/><circle cx="633.1" cy="477.7" r="3.25"/><circle cx="632.2" cy="482.0" r="3.25"/><circle cx="631.4" cy="486.3" r="3.25"/><circle cx="630.5" cy="490.5" r="3.25"/><circle cx="631.7" cy="492.8" r="3.25"/><circle cx="626.5" cy="493.9" r="3.25"/><circle cx="621.4" cy="495.1" r="3.25"/><circle cx="618.7" cy="496.9" r="3.25"/><circle cx="615.7" cy="493.9" r="3.25"/><circle cx="612.7" cy="490.9" r="3.25"/><circle cx="609.7" cy="487.9" r="3.25"/><circle cx="607.5" cy="486.5" r="3.25"/><circle cx="599.8" cy="467.1" r="3.25"/><circle cx="598.9" cy="476.5" r="3.25"/><circle cx="587.8" cy="481.7" r="3.25"/><circle cx="590.4" cy="493.6" r="3.25"/><circle cx="578.4" cy="508.1" r="3.25"/><circle cx="581.8" cy="503.9" r="3.25"/><circle cx="576.7" cy="523.5" r="3.25"/><circle cx="558.8" cy="538.0" r="3.25"/><circle cx="608.3" cy="454.3" r="3.25"/><circle cx="616.9" cy="444.9" r="3.25"/><circle cx="615.1" cy="449.2" r="3.25"/><circle cx="574.2" cy="529.5" r="3.25"/><circle cx="584.4" cy="515.8" r="3.25"/><circle cx="589.5" cy="505.6" r="3.25"/><circle cx="594.7" cy="495.3" r="3.25"/><circle cx="586.1" cy="498.7" r="3.25"/><circle cx="572.5" cy="536.3" r="3.25"/><circle cx="563.9" cy="536.3" r="3.25"/><circle cx="579.3" cy="531.2" r="3.25"/><circle cx="582.7" cy="526.1" r="3.25"/><circle cx="604.9" cy="473.1" r="3.25"/><circle cx="601.5" cy="483.4" r="3.25"/><circle cx="602.7" cy="500.6" r="3.25"/><circle cx="605.5" cy="494.4" r="3.25"/><circle cx="609.7" cy="490.3" r="3.25"/><circle cx="617.0" cy="489.9" r="3.25"/><circle cx="619.0" cy="488.0" r="3.25"/><circle cx="621.9" cy="487.2" r="3.25"/><circle cx="625.8" cy="490.5" r="3.25"/><circle cx="627.1" cy="498.0" r="3.25"/><circle cx="606.4" cy="485.8" r="3.25"/><circle cx="607.1" cy="478.8" r="3.25"/><circle cx="610.9" cy="473.7" r="3.25"/><circle cx="612.9" cy="471.2" r="3.25"/><circle cx="615.3" cy="471.0" r="3.25"/><circle cx="614.3" cy="478.6" r="3.25"/><circle cx="614.4" cy="482.8" r="3.25"/><circle cx="609.1" cy="482.8" r="3.25"/><circle cx="616.7" cy="444.5" r="3.25"/><circle cx="621.4" cy="442.2" r="3.25"/><circle cx="615.0" cy="450.4" r="3.25"/><circle cx="608.5" cy="453.9" r="3.25"/><circle cx="612.0" cy="458.5" r="3.25"/><circle cx="613.2" cy="463.2" r="3.25"/><circle cx="600.4" cy="466.7" r="3.25"/><circle cx="598.0" cy="476.1" r="3.25"/><circle cx="607.4" cy="473.7" r="3.25"/><circle cx="613.2" cy="471.4" r="3.25"/><circle cx="605.0" cy="479.6" r="3.25"/><circle cx="588.1" cy="481.3" r="3.25"/><circle cx="600.4" cy="485.4" r="3.25"/><circle cx="589.8" cy="494.2" r="3.25"/><circle cx="595.7" cy="494.7" r="3.25"/><circle cx="581.7" cy="502.9" r="3.25"/><circle cx="587.5" cy="500.6" r="3.25"/><circle cx="621.4" cy="467.9" r="3.25"/><circle cx="619.0" cy="477.2" r="3.25"/><circle cx="628.4" cy="471.4" r="3.25"/><circle cx="630.7" cy="469.0" r="3.25"/><circle cx="635.4" cy="474.9" r="3.25"/><circle cx="626.1" cy="481.9" r="3.25"/><circle cx="629.6" cy="487.7" r="3.25"/><circle cx="637.1" cy="487.7" r="3.25"/><circle cx="631.9" cy="497.7" r="3.25"/><circle cx="635.4" cy="506.4" r="3.25"/><circle cx="637.7" cy="428.2" r="3.25"/><circle cx="638.9" cy="431.7" r="3.25"/><circle cx="640.1" cy="436.3" r="3.25"/><circle cx="634.2" cy="438.7" r="3.25"/><circle cx="640.1" cy="442.2" r="3.25"/><circle cx="631.9" cy="446.9" r="3.25"/><circle cx="638.9" cy="446.9" r="3.25"/><circle cx="637.7" cy="451.5" r="3.25"/><circle cx="634.2" cy="455.0" r="3.25"/><circle cx="630.7" cy="458.5" r="3.25"/><circle cx="628.4" cy="462.0" r="3.25"/><circle cx="596.9" cy="476.1" r="3.25"/><circle cx="594.5" cy="492.4" r="3.25"/><circle cx="584.0" cy="499.4" r="3.25"/></g>
<g fill="#006d2c"></g>
<g fill="#000"></g><polyline fill="none" stroke="#6a51a3" stroke-width="3.0" stroke-linecap="round" stroke-linejoin="round" points="424.50,634.72 427.73,634.11 430.97,633.49 434.20,632.85 437.44,632.20 440.67,631.53 443.91,630.85 447.14,630.15 450.37,629.43 453.61,628.70 456.84,627.95 460.08,627.17 463.31,626.38 466.55,625.57 469.78,624.73 473.01,623.88 476.25,622.99 479.48,622.08 482.72,621.15 485.95,620.18 489.19,619.19 492.42,618.16 495.66,617.10 498.89,616.00 502.12,614.87 505.36,613.70 508.59,612.48 511.83,611.22 515.06,609.91 518.30,608.55 521.53,607.14 524.76,605.67 528.00,604.13 531.23,602.53 534.47,600.86 537.70,599.10 540.94,597.27 544.17,595.34 547.40,593.32 550.64,591.19 553.87,588.94 557.11,586.56 560.34,584.05 563.58,581.38 566.81,578.54 570.04,575.52 573.28,572.29 576.51,568.82 579.75,565.09 582.98,561.07 586.22,556.71 589.45,551.98 592.68,546.80 595.92,541.11 599.15,534.83 602.39,527.86 605.62,520.05 608.86,511.23 612.09,501.19 615.33,489.62 615.83,487.66 616.33,485.65 616.83,483.59 617.34,481.48 617.84,479.32 618.34,477.09 618.85,474.81 619.35,472.47 619.85,470.06 620.36,467.59 620.86,465.04 621.36,462.42 621.87,459.73 622.37,456.95 622.87,454.09 623.38,451.14 623.88,448.10 624.38,444.96 624.89,441.72 625.39,438.37 625.89,434.90 626.40,431.32 626.90,427.60 627.40,423.76 627.90,419.77 628.41,415.62 628.91,411.32 629.41,406.85 629.92,402.19"/><polyline fill="none" stroke="#2b8cbe" stroke-width="3.2" stroke-linecap="round" stroke-linejoin="round" points="424.50,634.72 429.30,633.47 434.03,632.77 438.70,632.16 443.29,631.60 447.82,631.06 452.28,630.54 456.67,630.03 461.00,629.52 465.26,629.03 469.46,628.54 473.59,628.05 477.66,627.57 481.67,627.08 485.61,626.60 489.49,626.12 493.31,625.63 497.06,625.15 500.76,624.66 504.39,624.18 507.96,623.69 511.48,623.19 514.93,622.70 518.33,622.20 521.67,621.70 524.95,621.20 528.18,620.69 531.34,620.18 534.45,619.66 537.51,619.14 540.51,618.62 543.46,618.09 546.35,617.55 549.19,617.02 551.97,616.47 554.71,615.92 557.39,615.37 560.02,614.81 562.60,614.24 565.12,613.67 567.60,613.09 570.03,612.51 572.41,611.91 574.74,611.32 577.02,610.71 579.26,610.10 581.45,609.48 583.59,608.85 585.68,608.21 587.73,607.57 589.74,606.91 591.70,606.25 593.61,605.58 595.49,604.90 597.32,604.21 599.10,603.51 600.85,602.80 602.55,602.08 604.21,601.35 605.84,600.61 607.42,599.86 608.96,599.09 610.46,598.32 611.93,597.53 613.36,596.73 614.74,595.91 616.10,595.08 617.41,594.24 618.69,593.39 619.94,592.52 621.14,591.63 622.32,590.73 623.46,589.81 624.57,588.88 625.64,587.92 626.68,586.95 627.69,585.97 628.67,584.96 629.61,583.93 630.53,582.89 631.42,581.82 632.27,580.73 633.10,579.61 633.90,578.48 634.67,577.32 635.41,576.13 636.13,574.92 636.82,573.69 637.48,572.42 638.12,571.13 638.74,569.80 639.32,568.45 639.89,567.06 640.43,565.64 640.95,564.18 641.44,562.69 641.92,561.17 642.37,559.60 642.80,558.00 643.21,556.35 643.60,554.66 643.97,552.93 644.33,551.15 644.66,549.33 644.97,547.46 645.27,545.54 645.55,543.57 645.82,541.55 646.07,539.48 646.30,537.36 646.52,535.19 646.72,532.96 646.91,530.69 647.08,528.37 647.25,526.01 647.40,523.60 647.54,521.17 647.66,518.70 647.78,516.22 647.88,513.73 647.98,511.25 648.06,508.79 648.14,506.38 648.21,504.03 648.27,501.77 648.32,499.62 648.37,497.60 648.41,495.74 648.44,494.06 648.47,492.58 648.49,491.30 648.51,490.23 648.52,489.37 648.53,488.70 648.54,488.22 648.55,487.89 648.55,487.68 648.55,487.58 648.55,487.54 648.55,487.53"/></g>
<rect x="415.90" y="427.10" width="73.60" height="41.00" fill="#fff" stroke="#333" stroke-width="1"/>
<line x1="426.60" y1="440.80" x2="446.50" y2="440.80" stroke="#6a51a3" stroke-width="2.2" stroke-linecap="round"/>
<line x1="426.80" y1="454.60" x2="446.30" y2="454.60" stroke="#2b8cbe" stroke-width="2.6" stroke-linecap="round"/>
<text x="458.10" y="445.00" font-size="11.5" text-anchor="start" fill="#000">IAM</text>
<text x="458.10" y="458.80" font-size="11.5" text-anchor="start" fill="#000">SMM</text>
<rect x="415.9" y="427.1" width="241.4" height="222.2" fill="none" stroke="#333" stroke-width="1"/>
<line x1="408.60" y1="641.60" x2="415.90" y2="641.60" stroke="#333" stroke-width="1"/>
<text x="399.00" y="641.60" font-size="12" text-anchor="middle" fill="#000" transform="rotate(-90 399.00 641.60)">0</text>
<line x1="408.60" y1="607.20" x2="415.90" y2="607.20" stroke="#333" stroke-width="1"/>
<text x="399.00" y="607.20" font-size="12" text-anchor="middle" fill="#000" transform="rotate(-90 399.00 607.20)">5</text>
<line x1="408.60" y1="572.80" x2="415.90" y2="572.80" stroke="#333" stroke-width="1"/>
<text x="399.00" y="572.80" font-size="12" text-anchor="middle" fill="#000" transform="rotate(-90 399.00 572.80)">10</text>
<line x1="408.60" y1="538.40" x2="415.90" y2="538.40" stroke="#333" stroke-width="1"/>
<text x="399.00" y="538.40" font-size="12" text-anchor="middle" fill="#000" transform="rotate(-90 399.00 538.40)">15</text>
<line x1="408.60" y1="504.00" x2="415.90" y2="504.00" stroke="#333" stroke-width="1"/>
<text x="399.00" y="504.00" font-size="12" text-anchor="middle" fill="#000" transform="rotate(-90 399.00 504.00)">20</text>
<line x1="408.60" y1="469.60" x2="415.90" y2="469.60" stroke="#333" stroke-width="1"/>
<text x="399.00" y="469.60" font-size="12" text-anchor="middle" fill="#000" transform="rotate(-90 399.00 469.60)">25</text>
<line x1="408.60" y1="435.20" x2="415.90" y2="435.20" stroke="#333" stroke-width="1"/>
<text x="399.00" y="435.20" font-size="12" text-anchor="middle" fill="#000" transform="rotate(-90 399.00 435.20)">30</text>
<line x1="424.50" y1="649.30" x2="424.50" y2="656.60" stroke="#333" stroke-width="1"/>
<text x="424.50" y="675.00" font-size="12" text-anchor="middle" fill="#000">0.0</text>
<line x1="469.40" y1="649.30" x2="469.40" y2="656.60" stroke="#333" stroke-width="1"/>
<text x="469.40" y="675.00" font-size="12" text-anchor="middle" fill="#000">0.2</text>
<line x1="514.30" y1="649.30" x2="514.30" y2="656.60" stroke="#333" stroke-width="1"/>
<text x="514.30" y="675.00" font-size="12" text-anchor="middle" fill="#000">0.4</text>
<line x1="559.20" y1="649.30" x2="559.20" y2="656.60" stroke="#333" stroke-width="1"/>
<text x="559.20" y="675.00" font-size="12" text-anchor="middle" fill="#000">0.6</text>
<line x1="604.10" y1="649.30" x2="604.10" y2="656.60" stroke="#333" stroke-width="1"/>
<text x="604.10" y="675.00" font-size="12" text-anchor="middle" fill="#000">0.8</text>
<line x1="649.00" y1="649.30" x2="649.00" y2="656.60" stroke="#333" stroke-width="1"/>
<text x="649.00" y="675.00" font-size="12" text-anchor="middle" fill="#000">1.0</text>
<text x="371.80" y="538.60" font-size="14.8" text-anchor="middle" fill="#000" transform="rotate(-90 371.80 538.60)" textLength="115.30" lengthAdjust="spacingAndGlyphs">Number of alleles</text>
<text x="536.65" y="702.00" font-size="14.8" text-anchor="middle" fill="#000" textLength="161.00" lengthAdjust="spacingAndGlyphs">Expected heterozygosity</text>
</svg></body></html>
